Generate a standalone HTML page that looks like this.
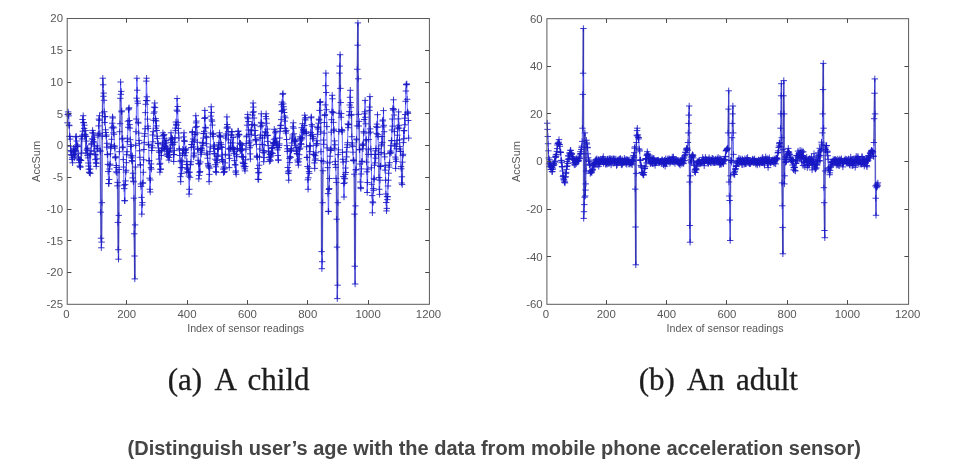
<!DOCTYPE html>
<html lang="en">
<head>
<meta charset="utf-8">
<title>Distinguish user’s age with acceleration sensor data</title>
<style>
html,body{margin:0;padding:0;background:#fff;}
body{width:959px;height:470px;overflow:hidden;}
svg{display:block;}
</style>
</head>
<body>
<svg width="959" height="470" viewBox="0 0 959 470">
<rect width="959" height="470" fill="#ffffff"/>
<defs><filter id="soft" x="-2%" y="-2%" width="104%" height="104%"><feGaussianBlur stdDeviation="0.4"/></filter><filter id="soft2" x="-2%" y="-20%" width="104%" height="140%"><feGaussianBlur stdDeviation="0.35"/></filter></defs>
<g id="left-data" filter="url(#soft)">
<path d="M67.5,122.8 67.8,114.5 68.1,111.9 68.4,113.9 68.7,115.9 69.0,125.1 69.3,125.7 69.6,136.4 69.9,136.4 70.2,139.1 70.5,146.3 70.8,150.5 71.1,154.6 71.4,151.7 71.7,155.3 72.0,159.5 72.3,157.8 72.6,162.8 72.9,155.2 73.2,152.1 73.5,148.2 73.8,154.5 74.1,151.3 74.4,157.8 74.7,149.3 75.0,155.9 75.3,150.6 75.7,136.9 76.0,151.0 76.3,136.4 76.6,141.0 76.9,146.3 77.2,144.9 77.5,146.6 77.8,146.1 78.1,153.8 78.4,157.0 78.7,158.8 79.0,162.6 79.3,160.2 79.6,166.0 79.9,159.5 80.2,167.1 80.5,166.8 80.8,160.4 81.1,160.4 81.4,136.5 81.7,153.0 82.0,138.9 82.3,135.2 82.6,119.5 82.9,131.2 83.2,115.7 83.5,122.4 83.8,122.8 84.1,128.4 84.4,125.2 84.7,136.6 85.0,134.4 85.3,135.1 85.6,130.6 85.9,153.2 86.2,136.5 86.5,141.1 86.8,150.3 87.1,149.0 87.4,155.4 87.7,148.1 88.0,157.9 88.3,163.0 88.6,166.1 88.9,169.2 89.2,172.2 89.5,172.8 89.8,154.4 90.1,169.1 90.4,173.4 90.7,153.6 91.0,150.8 91.3,144.7 91.6,143.4 92.0,138.8 92.3,132.8 92.6,130.4 92.9,139.7 93.2,141.8 93.5,133.1 93.8,142.0 94.1,151.2 94.4,137.1 94.7,146.1 95.0,154.6 95.3,159.6 95.6,154.9 95.9,162.8 96.2,166.4 96.5,163.3 96.8,158.8 97.1,145.9 97.4,148.4 97.7,148.9 98.0,135.4 98.3,134.2 98.6,125.9 98.9,119.1 99.2,120.3 99.5,115.7 99.8,133.3 100.1,150.3 100.4,151.3 100.7,212.2 101.0,238.2 101.3,247.8 101.6,242.1 101.9,202.7 102.2,136.2 102.5,112.9 102.8,78.2 103.1,84.8 103.4,96.3 103.7,93.1 104.0,100.3 104.3,111.7 104.6,122.5 104.9,116.8 105.2,116.5 105.5,129.8 105.8,132.5 106.1,136.4 106.4,135.0 106.7,147.2 107.0,143.3 107.3,154.7 107.6,154.4 107.9,164.4 108.2,171.5 108.6,183.5 108.9,183.6 109.2,179.5 109.5,169.0 109.8,165.2 110.1,164.1 110.4,153.8 110.7,146.6 111.0,148.2 111.3,144.8 111.6,139.3 111.9,127.9 112.2,123.2 112.5,116.9 112.8,118.0 113.1,126.9 113.4,132.8 113.7,127.9 114.0,134.3 114.3,146.0 114.6,146.2 114.9,148.1 115.2,157.2 115.5,157.9 115.8,156.8 116.1,171.9 116.4,165.5 116.7,167.5 117.0,172.8 117.3,185.9 117.6,182.4 117.9,222.4 118.2,249.7 118.5,259.2 118.8,215.4 119.1,169.5 119.4,151.7 119.7,131.7 120.0,123.7 120.3,98.3 120.6,82.0 120.9,94.3 121.2,91.4 121.5,111.8 121.8,110.9 122.1,139.1 122.4,147.7 122.7,138.3 123.0,147.0 123.3,159.6 123.6,167.0 123.9,185.1 124.2,188.6 124.5,200.6 124.9,200.8 125.2,184.6 125.5,180.9 125.8,172.1 126.1,170.3 126.4,162.7 126.7,154.7 127.0,151.7 127.3,138.2 127.6,141.6 127.9,121.2 128.2,127.3 128.5,109.8 128.8,108.7 129.1,107.8 129.4,120.5 129.7,124.6 130.0,128.1 130.3,139.7 130.6,146.5 130.9,155.8 131.2,144.7 131.5,157.8 131.8,160.5 132.1,161.3 132.4,155.8 132.7,177.9 133.0,173.2 133.3,181.2 133.6,181.8 133.9,198.1 134.2,233.8 134.5,256.0 134.8,278.9 135.1,224.9 135.4,167.0 135.7,145.4 136.0,131.7 136.3,119.0 136.6,98.2 136.9,78.2 137.2,90.2 137.5,101.1 137.8,103.3 138.1,122.3 138.4,123.1 138.7,133.1 139.0,140.4 139.3,143.7 139.6,150.8 139.9,157.3 140.2,164.9 140.5,164.9 140.8,184.0 141.1,186.4 141.5,197.4 141.8,214.1 142.1,205.0 142.4,202.6 142.7,183.1 143.0,182.9 143.3,172.3 143.6,159.8 143.9,149.5 144.2,142.4 144.5,136.2 144.8,133.7 145.1,128.8 145.4,112.6 145.7,104.3 146.0,100.5 146.3,81.1 146.6,78.2 146.9,96.8 147.2,100.7 147.5,119.1 147.8,126.2 148.1,128.4 148.4,144.3 148.7,144.9 149.0,160.7 149.3,160.7 149.6,178.2 149.9,189.3 150.2,192.0 150.5,180.0 150.8,167.6 151.1,163.9 151.4,169.1 151.7,150.5 152.0,145.8 152.3,147.8 152.6,135.0 152.9,141.8 153.2,131.7 153.5,120.2 153.8,113.2 154.1,107.1 154.4,111.9 154.7,103.0 155.0,107.6 155.3,120.6 155.6,118.6 155.9,128.2 156.2,120.9 156.5,125.9 156.8,130.5 157.1,136.2 157.4,138.6 157.8,143.3 158.1,143.6 158.4,147.9 158.7,150.8 159.0,159.1 159.3,152.3 159.6,164.3 159.9,172.2 160.2,163.3 160.5,169.4 160.8,169.0 161.1,151.1 161.4,155.5 161.7,150.5 162.0,148.6 162.3,142.8 162.6,144.8 162.9,132.8 163.2,136.0 163.5,135.5 163.8,148.1 164.1,134.5 164.4,138.3 164.7,149.5 165.0,146.2 165.3,143.8 165.6,142.1 165.9,146.2 166.2,140.5 166.5,148.1 166.8,154.2 167.1,154.0 167.4,148.6 167.7,156.5 168.0,151.0 168.3,151.7 168.6,155.3 168.9,160.1 169.2,157.5 169.5,152.3 169.8,151.1 170.1,148.1 170.4,148.9 170.7,139.7 171.0,132.8 171.3,142.7 171.6,137.8 171.9,138.9 172.2,144.9 172.5,138.7 172.8,142.5 173.1,144.3 173.4,154.6 173.7,161.5 174.0,154.5 174.4,150.6 174.7,142.2 175.0,137.7 175.3,128.1 175.6,130.6 175.9,122.0 176.2,124.3 176.5,125.2 176.8,110.1 177.1,98.5 177.4,111.2 177.7,106.5 178.0,122.4 178.3,128.4 178.6,133.0 178.9,138.0 179.2,148.7 179.5,149.9 179.8,155.5 180.1,161.2 180.4,176.7 180.7,181.7 181.0,167.6 181.3,160.3 181.6,173.4 181.9,161.9 182.2,167.7 182.5,153.9 182.8,149.2 183.1,153.0 183.4,150.4 183.7,136.9 184.0,132.8 184.3,140.4 184.6,141.5 184.9,155.7 185.2,150.5 185.5,149.6 185.8,152.7 186.1,148.8 186.4,164.5 186.7,172.0 187.0,161.4 187.3,169.1 187.6,167.9 187.9,168.9 188.2,172.8 188.5,172.2 188.8,176.1 189.1,194.1 189.4,189.3 189.7,172.2 190.0,177.3 190.3,164.8 190.6,164.3 191.0,161.8 191.3,147.5 191.6,144.5 191.9,144.6 192.2,132.6 192.5,131.5 192.8,141.8 193.1,139.0 193.4,146.9 193.7,156.9 194.0,155.2 194.3,153.1 194.6,140.2 194.9,134.6 195.2,134.3 195.5,127.4 195.8,115.7 196.1,122.9 196.4,121.1 196.7,126.4 197.0,132.9 197.3,142.3 197.6,149.3 197.9,148.8 198.2,160.3 198.5,163.6 198.8,178.9 199.1,175.4 199.4,164.0 199.7,172.4 200.0,171.5 200.3,162.0 200.6,150.3 200.9,148.4 201.2,154.3 201.5,152.2 201.8,148.2 202.1,150.2 202.4,143.3 202.7,142.4 203.0,145.3 203.3,138.1 203.6,133.6 203.9,133.4 204.2,131.4 204.5,118.5 204.8,110.4 205.1,117.6 205.4,127.4 205.7,128.0 206.0,136.4 206.3,143.7 206.6,137.6 206.9,153.1 207.3,154.7 207.6,158.2 207.9,163.6 208.2,165.1 208.5,166.1 208.8,167.1 209.1,181.7 209.4,174.4 209.7,168.2 210.0,151.4 210.3,147.0 210.6,133.0 210.9,116.1 211.2,106.8 211.5,112.4 211.8,119.9 212.1,121.2 212.4,125.1 212.7,134.4 213.0,136.4 213.3,133.4 213.6,148.4 213.9,146.2 214.2,153.6 214.5,145.0 214.8,154.0 215.1,159.2 215.4,164.7 215.7,171.6 216.0,166.8 216.3,172.4 216.6,160.5 216.9,155.9 217.2,162.7 217.5,149.5 217.8,148.3 218.1,156.3 218.4,148.6 218.7,144.9 219.0,142.8 219.3,135.2 219.6,132.8 219.9,136.0 220.2,136.7 220.5,137.0 220.8,142.8 221.1,146.7 221.4,144.6 221.7,159.5 222.0,147.5 222.3,155.0 222.6,161.6 222.9,160.0 223.2,169.1 223.5,172.6 223.9,167.1 224.2,172.0 224.5,171.6 224.8,168.8 225.1,162.9 225.4,154.3 225.7,135.9 226.0,138.1 226.3,134.0 226.6,128.0 226.9,116.9 227.2,124.5 227.5,126.8 227.8,128.0 228.1,131.7 228.4,139.8 228.7,149.0 229.0,155.2 229.3,167.6 229.6,158.4 229.9,148.2 230.2,148.8 230.5,142.9 230.8,148.8 231.1,135.2 231.4,134.8 231.7,131.5 232.0,131.9 232.3,147.8 232.6,142.9 232.9,147.6 233.2,137.5 233.5,149.7 233.8,153.4 234.1,149.0 234.4,160.6 234.7,151.7 235.0,164.8 235.3,164.8 235.6,172.2 235.9,170.9 236.2,174.3 236.5,154.7 236.8,156.7 237.1,148.4 237.4,148.8 237.7,136.2 238.0,131.5 238.3,131.0 238.6,134.2 238.9,134.7 239.2,134.8 239.5,143.2 239.8,148.7 240.2,150.9 240.5,143.2 240.8,149.8 241.1,144.4 241.4,150.5 241.7,156.6 242.0,148.8 242.3,145.3 242.6,157.0 242.9,162.3 243.2,163.5 243.5,157.0 243.8,165.9 244.1,166.9 244.4,163.6 244.7,168.8 245.0,170.9 245.3,166.5 245.6,159.8 245.9,149.3 246.2,143.6 246.5,136.8 246.8,136.0 247.1,125.2 247.4,117.3 247.7,114.4 248.0,118.7 248.3,121.5 248.6,130.0 248.9,134.4 249.2,142.8 249.5,140.9 249.8,147.7 250.1,153.9 250.4,159.1 250.7,145.7 251.0,129.9 251.3,134.2 251.6,130.8 251.9,124.9 252.2,124.4 252.5,115.1 252.8,112.3 253.1,103.0 253.4,107.1 253.7,111.8 254.0,118.0 254.3,125.7 254.6,124.9 254.9,135.5 255.2,130.5 255.5,139.4 255.8,140.8 256.1,139.8 256.4,144.4 256.8,156.9 257.1,156.0 257.4,157.2 257.7,168.5 258.0,179.3 258.3,172.9 258.6,179.5 258.9,172.4 259.2,165.2 259.5,156.8 259.8,149.0 260.1,137.9 260.4,135.0 260.7,126.7 261.0,122.4 261.3,113.8 261.6,123.3 261.9,125.3 262.2,144.7 262.5,138.0 262.8,144.7 263.1,152.3 263.4,150.5 263.7,161.7 264.0,157.6 264.3,152.9 264.6,135.5 264.9,135.8 265.2,131.7 265.5,132.7 265.8,116.5 266.1,113.8 266.4,118.8 266.7,123.2 267.0,135.4 267.3,129.1 267.6,141.4 267.9,135.4 268.2,145.6 268.5,151.1 268.8,151.3 269.1,157.3 269.4,161.4 269.7,159.4 270.0,154.5 270.3,157.0 270.6,160.7 270.9,153.9 271.2,155.9 271.5,152.7 271.8,148.5 272.1,147.8 272.4,147.7 272.7,153.4 273.1,142.6 273.4,143.9 273.7,143.4 274.0,139.3 274.3,129.3 274.6,143.0 274.9,142.9 275.2,132.8 275.5,138.3 275.8,131.3 276.1,145.0 276.4,145.3 276.7,141.4 277.0,142.9 277.3,147.4 277.6,149.9 277.9,155.5 278.2,160.0 278.5,160.1 278.8,147.6 279.1,145.4 279.4,143.9 279.7,138.0 280.0,131.3 280.3,125.6 280.6,128.4 280.9,125.2 281.2,119.6 281.5,104.7 281.8,111.5 282.1,102.1 282.4,110.6 282.7,94.3 283.0,93.4 283.3,103.9 283.6,106.7 283.9,109.3 284.2,112.5 284.5,116.1 284.8,121.1 285.1,128.4 285.4,117.8 285.7,131.4 286.0,133.1 286.3,130.4 286.6,139.5 286.9,145.6 287.2,151.4 287.5,148.8 287.8,167.5 288.1,171.9 288.4,173.5 288.7,180.2 289.0,170.8 289.3,158.4 289.7,162.6 290.0,156.6 290.3,151.2 290.6,157.4 290.9,148.5 291.2,150.4 291.5,149.8 291.8,143.0 292.1,138.8 292.4,137.1 292.7,135.0 293.0,126.8 293.3,122.8 293.6,128.2 293.9,133.8 294.2,140.7 294.5,141.8 294.8,145.3 295.1,141.1 295.4,139.3 295.7,141.0 296.0,147.4 296.3,151.3 296.6,150.9 296.9,153.6 297.2,153.9 297.5,160.1 297.8,162.1 298.1,147.1 298.4,165.1 298.7,161.8 299.0,158.8 299.3,154.7 299.6,149.3 299.9,136.8 300.2,148.3 300.5,138.3 300.8,143.7 301.1,140.0 301.4,144.3 301.7,127.7 302.0,137.4 302.3,138.8 302.6,123.7 302.9,132.1 303.2,129.4 303.5,130.5 303.8,132.0 304.1,133.1 304.4,125.5 304.7,115.2 305.0,119.0 305.3,120.0 305.6,117.6 306.0,133.5 306.3,131.8 306.6,146.8 306.9,157.5 307.2,157.3 307.5,166.5 307.8,179.8 308.1,189.3 308.4,177.8 308.7,168.2 309.0,171.6 309.3,173.4 309.6,145.5 309.9,151.6 310.2,146.3 310.5,135.6 310.8,132.4 311.1,117.8 311.4,116.9 311.7,124.6 312.0,134.6 312.3,126.2 312.6,138.9 312.9,136.4 313.2,138.2 313.5,154.4 313.8,154.3 314.1,154.7 314.4,162.9 314.7,168.4 315.0,160.2 315.3,155.7 315.6,158.9 315.9,152.8 316.2,145.4 316.5,143.9 316.8,140.8 317.1,143.7 317.4,127.3 317.7,134.3 318.0,129.0 318.3,127.2 318.6,123.2 318.9,119.2 319.2,120.0 319.5,110.4 319.8,102.4 320.1,102.1 320.4,101.7 320.7,131.9 321.0,151.7 321.3,160.5 321.6,251.6 321.9,268.7 322.2,261.7 322.6,202.7 322.9,170.7 323.2,161.4 323.5,140.0 323.8,144.3 324.1,133.2 324.4,122.5 324.7,115.5 325.0,114.6 325.3,104.9 325.6,85.7 325.9,73.1 326.2,92.5 326.5,109.7 326.8,126.6 327.1,147.9 327.4,163.0 327.7,167.6 328.0,193.6 328.3,211.6 328.6,211.3 328.9,189.5 329.2,188.5 329.5,178.5 329.8,162.2 330.1,156.2 330.4,149.0 330.7,150.5 331.0,149.9 331.3,132.2 331.6,119.7 331.9,111.7 332.2,95.3 332.5,98.8 332.8,112.8 333.1,112.2 333.4,122.4 333.7,130.6 334.0,129.2 334.3,148.3 334.6,140.9 334.9,144.8 335.2,164.6 335.5,161.4 335.8,167.4 336.1,178.4 336.4,182.4 336.7,219.2 337.0,247.1 337.3,298.6 337.6,285.2 337.9,202.7 338.2,154.6 338.5,149.9 338.8,131.5 339.2,113.2 339.5,73.1 339.8,66.1 340.1,54.7 340.4,88.4 340.7,102.5 341.0,117.2 341.3,113.6 341.6,129.5 341.9,131.9 342.2,130.5 342.5,152.4 342.8,159.3 343.1,162.1 343.4,176.5 343.7,183.5 344.0,197.0 344.3,178.2 344.6,182.9 344.9,178.8 345.2,174.4 345.5,168.0 345.8,172.5 346.1,161.3 346.4,151.9 346.7,156.9 347.0,147.4 347.3,144.8 347.6,142.7 347.9,123.9 348.2,127.7 348.5,124.5 348.8,124.7 349.1,115.2 349.4,111.6 349.7,105.0 350.0,97.3 350.3,90.3 350.6,102.6 350.9,107.3 351.2,115.2 351.5,114.4 351.8,136.7 352.1,145.1 352.4,142.9 352.7,146.6 353.0,152.2 353.3,160.5 353.6,159.9 353.9,160.9 354.2,174.2 354.5,214.1 354.8,266.2 355.1,284.0 355.5,205.9 355.8,169.8 356.1,169.8 356.4,139.0 356.7,139.8 357.0,125.9 357.3,69.3 357.6,45.2 357.9,22.9 358.2,78.8 358.5,114.4 358.8,126.0 359.1,121.4 359.4,149.8 359.7,149.6 360.0,164.0 360.3,182.0 360.6,187.4 360.9,188.6 361.2,174.0 361.5,168.9 361.8,161.6 362.1,161.2 362.4,144.9 362.7,145.4 363.0,148.8 363.3,144.0 363.6,131.7 363.9,133.0 364.2,119.5 364.5,113.8 364.8,111.8 365.1,100.4 365.4,117.3 365.7,123.8 366.0,140.8 366.3,139.5 366.6,162.1 366.9,171.8 367.2,192.5 367.5,182.5 367.8,169.1 368.1,154.4 368.4,149.8 368.7,139.5 369.0,133.0 369.3,110.4 369.6,107.0 369.9,96.6 370.2,128.9 370.5,132.1 370.8,148.8 371.1,154.4 371.4,167.8 371.7,184.3 372.1,195.6 372.4,212.8 372.7,201.9 373.0,202.8 373.3,188.6 373.6,190.3 373.9,178.3 374.2,179.6 374.5,165.2 374.8,154.4 375.1,162.9 375.4,150.8 375.7,158.2 376.0,148.5 376.3,126.7 376.6,133.4 376.9,124.1 377.2,127.4 377.5,114.7 377.8,134.7 378.1,136.7 378.4,154.3 378.7,148.7 379.0,177.5 379.3,189.3 379.6,194.4 379.9,180.2 380.2,166.1 380.5,166.4 380.8,166.3 381.1,152.5 381.4,145.9 381.7,144.2 382.0,136.5 382.3,142.4 382.6,121.0 382.9,120.0 383.2,126.9 383.5,110.6 383.8,125.3 384.1,131.7 384.4,153.9 384.7,156.9 385.0,170.1 385.3,165.4 385.6,180.2 385.9,194.0 386.2,202.5 386.5,210.9 386.8,208.4 387.1,196.6 387.4,199.6 387.7,196.7 388.0,186.0 388.4,180.2 388.7,173.2 389.0,165.0 389.3,167.1 389.6,162.7 389.9,153.6 390.2,152.2 390.5,151.0 390.8,145.6 391.1,152.9 391.4,140.5 391.7,140.8 392.0,130.0 392.3,119.0 392.6,126.1 392.9,108.5 393.2,110.1 393.5,99.8 393.8,109.3 394.1,115.0 394.4,131.6 394.7,146.1 395.0,144.0 395.3,157.1 395.6,168.4 395.9,159.1 396.2,161.4 396.5,148.8 396.8,143.9 397.1,140.4 397.4,135.2 397.7,128.8 398.0,127.1 398.3,118.9 398.6,111.9 398.9,125.3 399.2,128.2 399.5,139.8 399.8,146.6 400.1,149.0 400.4,151.3 400.7,151.4 401.0,166.6 401.3,168.8 401.6,183.0 401.9,176.8 402.2,184.6 402.5,162.1 402.8,155.6 403.1,154.3 403.4,142.6 403.7,130.6 404.0,138.7 404.3,130.7 404.6,118.2 405.0,124.8 405.3,114.5 405.6,101.3 405.9,91.0 406.2,84.6 406.5,84.7 406.8,83.9 407.1,99.3 407.4,112.8 407.7,111.9 408.0,113.3 408.3,120.5 408.6,138.1" fill="none" stroke="#4040ff" stroke-width="0.8" stroke-linejoin="round"/>
<path d="M81.1,160.4L81.4,136.5" fill="none" stroke="#20208a" stroke-width="1.6" stroke-opacity="0.4"/>
<path d="M85.6,130.6L85.9,153.2" fill="none" stroke="#20208a" stroke-width="1.6" stroke-opacity="0.4"/>
<path d="M100.4,151.3L100.7,212.2" fill="none" stroke="#20208a" stroke-width="1.6" stroke-opacity="0.4"/>
<path d="M100.7,212.2L101.0,238.2" fill="none" stroke="#20208a" stroke-width="1.6" stroke-opacity="0.4"/>
<path d="M101.6,242.1L101.9,202.7" fill="none" stroke="#20208a" stroke-width="1.6" stroke-opacity="0.4"/>
<path d="M101.9,202.7L102.2,136.2" fill="none" stroke="#20208a" stroke-width="1.6" stroke-opacity="0.4"/>
<path d="M102.2,136.2L102.5,112.9" fill="none" stroke="#20208a" stroke-width="1.6" stroke-opacity="0.4"/>
<path d="M102.5,112.9L102.8,78.2" fill="none" stroke="#20208a" stroke-width="1.6" stroke-opacity="0.4"/>
<path d="M117.6,182.4L117.9,222.4" fill="none" stroke="#20208a" stroke-width="1.6" stroke-opacity="0.4"/>
<path d="M117.9,222.4L118.2,249.7" fill="none" stroke="#20208a" stroke-width="1.6" stroke-opacity="0.4"/>
<path d="M118.5,259.2L118.8,215.4" fill="none" stroke="#20208a" stroke-width="1.6" stroke-opacity="0.4"/>
<path d="M118.8,215.4L119.1,169.5" fill="none" stroke="#20208a" stroke-width="1.6" stroke-opacity="0.4"/>
<path d="M120.0,123.7L120.3,98.3" fill="none" stroke="#20208a" stroke-width="1.6" stroke-opacity="0.4"/>
<path d="M121.8,110.9L122.1,139.1" fill="none" stroke="#20208a" stroke-width="1.6" stroke-opacity="0.4"/>
<path d="M132.4,155.8L132.7,177.9" fill="none" stroke="#20208a" stroke-width="1.6" stroke-opacity="0.4"/>
<path d="M133.9,198.1L134.2,233.8" fill="none" stroke="#20208a" stroke-width="1.6" stroke-opacity="0.4"/>
<path d="M134.2,233.8L134.5,256.0" fill="none" stroke="#20208a" stroke-width="1.6" stroke-opacity="0.4"/>
<path d="M134.5,256.0L134.8,278.9" fill="none" stroke="#20208a" stroke-width="1.6" stroke-opacity="0.4"/>
<path d="M134.8,278.9L135.1,224.9" fill="none" stroke="#20208a" stroke-width="1.6" stroke-opacity="0.4"/>
<path d="M135.1,224.9L135.4,167.0" fill="none" stroke="#20208a" stroke-width="1.6" stroke-opacity="0.4"/>
<path d="M309.3,173.4L309.6,145.5" fill="none" stroke="#20208a" stroke-width="1.6" stroke-opacity="0.4"/>
<path d="M320.4,101.7L320.7,131.9" fill="none" stroke="#20208a" stroke-width="1.6" stroke-opacity="0.4"/>
<path d="M321.3,160.5L321.6,251.6" fill="none" stroke="#20208a" stroke-width="1.6" stroke-opacity="0.4"/>
<path d="M322.2,261.7L322.6,202.7" fill="none" stroke="#20208a" stroke-width="1.6" stroke-opacity="0.4"/>
<path d="M322.6,202.7L322.9,170.7" fill="none" stroke="#20208a" stroke-width="1.6" stroke-opacity="0.4"/>
<path d="M327.7,167.6L328.0,193.6" fill="none" stroke="#20208a" stroke-width="1.6" stroke-opacity="0.4"/>
<path d="M336.4,182.4L336.7,219.2" fill="none" stroke="#20208a" stroke-width="1.6" stroke-opacity="0.4"/>
<path d="M336.7,219.2L337.0,247.1" fill="none" stroke="#20208a" stroke-width="1.6" stroke-opacity="0.4"/>
<path d="M337.0,247.1L337.3,298.6" fill="none" stroke="#20208a" stroke-width="1.6" stroke-opacity="0.4"/>
<path d="M337.6,285.2L337.9,202.7" fill="none" stroke="#20208a" stroke-width="1.6" stroke-opacity="0.4"/>
<path d="M337.9,202.7L338.2,154.6" fill="none" stroke="#20208a" stroke-width="1.6" stroke-opacity="0.4"/>
<path d="M339.2,113.2L339.5,73.1" fill="none" stroke="#20208a" stroke-width="1.6" stroke-opacity="0.4"/>
<path d="M340.1,54.7L340.4,88.4" fill="none" stroke="#20208a" stroke-width="1.6" stroke-opacity="0.4"/>
<path d="M351.5,114.4L351.8,136.7" fill="none" stroke="#20208a" stroke-width="1.6" stroke-opacity="0.4"/>
<path d="M354.2,174.2L354.5,214.1" fill="none" stroke="#20208a" stroke-width="1.6" stroke-opacity="0.4"/>
<path d="M354.5,214.1L354.8,266.2" fill="none" stroke="#20208a" stroke-width="1.6" stroke-opacity="0.4"/>
<path d="M355.1,284.0L355.5,205.9" fill="none" stroke="#20208a" stroke-width="1.6" stroke-opacity="0.4"/>
<path d="M355.5,205.9L355.8,169.8" fill="none" stroke="#20208a" stroke-width="1.6" stroke-opacity="0.4"/>
<path d="M356.1,169.8L356.4,139.0" fill="none" stroke="#20208a" stroke-width="1.6" stroke-opacity="0.4"/>
<path d="M357.0,125.9L357.3,69.3" fill="none" stroke="#20208a" stroke-width="1.6" stroke-opacity="0.4"/>
<path d="M357.3,69.3L357.6,45.2" fill="none" stroke="#20208a" stroke-width="1.6" stroke-opacity="0.4"/>
<path d="M357.6,45.2L357.9,22.9" fill="none" stroke="#20208a" stroke-width="1.6" stroke-opacity="0.4"/>
<path d="M357.9,22.9L358.2,78.8" fill="none" stroke="#20208a" stroke-width="1.6" stroke-opacity="0.4"/>
<path d="M358.2,78.8L358.5,114.4" fill="none" stroke="#20208a" stroke-width="1.6" stroke-opacity="0.4"/>
<path d="M359.1,121.4L359.4,149.8" fill="none" stroke="#20208a" stroke-width="1.6" stroke-opacity="0.4"/>
<path d="M366.3,139.5L366.6,162.1" fill="none" stroke="#20208a" stroke-width="1.6" stroke-opacity="0.4"/>
<path d="M369.0,133.0L369.3,110.4" fill="none" stroke="#20208a" stroke-width="1.6" stroke-opacity="0.4"/>
<path d="M369.9,96.6L370.2,128.9" fill="none" stroke="#20208a" stroke-width="1.6" stroke-opacity="0.4"/>
<path d="M378.7,148.7L379.0,177.5" fill="none" stroke="#20208a" stroke-width="1.6" stroke-opacity="0.4"/>
<path d="M384.1,131.7L384.4,153.9" fill="none" stroke="#20208a" stroke-width="1.6" stroke-opacity="0.4"/>
<path d="M402.2,184.6L402.5,162.1" fill="none" stroke="#20208a" stroke-width="1.6" stroke-opacity="0.4"/>
<path d="M64.3 122.8h6.4m-3.2 -3.2v6.4M64.6 114.5h6.4m-3.2 -3.2v6.4M64.9 111.9h6.4m-3.2 -3.2v6.4M65.2 113.9h6.4m-3.2 -3.2v6.4M65.5 115.9h6.4m-3.2 -3.2v6.4M65.8 125.1h6.4m-3.2 -3.2v6.4M66.1 125.7h6.4m-3.2 -3.2v6.4M66.4 136.4h6.4m-3.2 -3.2v6.4M66.7 136.4h6.4m-3.2 -3.2v6.4M67.0 139.1h6.4m-3.2 -3.2v6.4M67.3 146.3h6.4m-3.2 -3.2v6.4M67.6 150.5h6.4m-3.2 -3.2v6.4M67.9 154.6h6.4m-3.2 -3.2v6.4M68.2 151.7h6.4m-3.2 -3.2v6.4M68.5 155.3h6.4m-3.2 -3.2v6.4M68.8 159.5h6.4m-3.2 -3.2v6.4M69.1 157.8h6.4m-3.2 -3.2v6.4M69.4 162.8h6.4m-3.2 -3.2v6.4M69.7 155.2h6.4m-3.2 -3.2v6.4M70.0 152.1h6.4m-3.2 -3.2v6.4M70.3 148.2h6.4m-3.2 -3.2v6.4M70.6 154.5h6.4m-3.2 -3.2v6.4M70.9 151.3h6.4m-3.2 -3.2v6.4M71.2 157.8h6.4m-3.2 -3.2v6.4M71.5 149.3h6.4m-3.2 -3.2v6.4M71.8 155.9h6.4m-3.2 -3.2v6.4M72.1 150.6h6.4m-3.2 -3.2v6.4M72.5 136.9h6.4m-3.2 -3.2v6.4M72.8 151.0h6.4m-3.2 -3.2v6.4M73.1 136.4h6.4m-3.2 -3.2v6.4M73.4 141.0h6.4m-3.2 -3.2v6.4M73.7 146.3h6.4m-3.2 -3.2v6.4M74.0 144.9h6.4m-3.2 -3.2v6.4M74.3 146.6h6.4m-3.2 -3.2v6.4M74.6 146.1h6.4m-3.2 -3.2v6.4M74.9 153.8h6.4m-3.2 -3.2v6.4M75.2 157.0h6.4m-3.2 -3.2v6.4M75.5 158.8h6.4m-3.2 -3.2v6.4M75.8 162.6h6.4m-3.2 -3.2v6.4M76.1 160.2h6.4m-3.2 -3.2v6.4M76.4 166.0h6.4m-3.2 -3.2v6.4M76.7 159.5h6.4m-3.2 -3.2v6.4M77.0 167.1h6.4m-3.2 -3.2v6.4M77.3 166.8h6.4m-3.2 -3.2v6.4M77.6 160.4h6.4m-3.2 -3.2v6.4M77.9 160.4h6.4m-3.2 -3.2v6.4M78.2 136.5h6.4m-3.2 -3.2v6.4M78.5 153.0h6.4m-3.2 -3.2v6.4M78.8 138.9h6.4m-3.2 -3.2v6.4M79.1 135.2h6.4m-3.2 -3.2v6.4M79.4 119.5h6.4m-3.2 -3.2v6.4M79.7 131.2h6.4m-3.2 -3.2v6.4M80.0 115.7h6.4m-3.2 -3.2v6.4M80.3 122.4h6.4m-3.2 -3.2v6.4M80.6 122.8h6.4m-3.2 -3.2v6.4M80.9 128.4h6.4m-3.2 -3.2v6.4M81.2 125.2h6.4m-3.2 -3.2v6.4M81.5 136.6h6.4m-3.2 -3.2v6.4M81.8 134.4h6.4m-3.2 -3.2v6.4M82.1 135.1h6.4m-3.2 -3.2v6.4M82.4 130.6h6.4m-3.2 -3.2v6.4M82.7 153.2h6.4m-3.2 -3.2v6.4M83.0 136.5h6.4m-3.2 -3.2v6.4M83.3 141.1h6.4m-3.2 -3.2v6.4M83.6 150.3h6.4m-3.2 -3.2v6.4M83.9 149.0h6.4m-3.2 -3.2v6.4M84.2 155.4h6.4m-3.2 -3.2v6.4M84.5 148.1h6.4m-3.2 -3.2v6.4M84.8 157.9h6.4m-3.2 -3.2v6.4M85.1 163.0h6.4m-3.2 -3.2v6.4M85.4 166.1h6.4m-3.2 -3.2v6.4M85.7 169.2h6.4m-3.2 -3.2v6.4M86.0 172.2h6.4m-3.2 -3.2v6.4M86.3 172.8h6.4m-3.2 -3.2v6.4M86.6 154.4h6.4m-3.2 -3.2v6.4M86.9 169.1h6.4m-3.2 -3.2v6.4M87.2 173.4h6.4m-3.2 -3.2v6.4M87.5 153.6h6.4m-3.2 -3.2v6.4M87.8 150.8h6.4m-3.2 -3.2v6.4M88.1 144.7h6.4m-3.2 -3.2v6.4M88.4 143.4h6.4m-3.2 -3.2v6.4M88.8 138.8h6.4m-3.2 -3.2v6.4M89.1 132.8h6.4m-3.2 -3.2v6.4M89.4 130.4h6.4m-3.2 -3.2v6.4M89.7 139.7h6.4m-3.2 -3.2v6.4M90.0 141.8h6.4m-3.2 -3.2v6.4M90.3 133.1h6.4m-3.2 -3.2v6.4M90.6 142.0h6.4m-3.2 -3.2v6.4M90.9 151.2h6.4m-3.2 -3.2v6.4M91.2 137.1h6.4m-3.2 -3.2v6.4M91.5 146.1h6.4m-3.2 -3.2v6.4M91.8 154.6h6.4m-3.2 -3.2v6.4M92.1 159.6h6.4m-3.2 -3.2v6.4M92.4 154.9h6.4m-3.2 -3.2v6.4M92.7 162.8h6.4m-3.2 -3.2v6.4M93.0 166.4h6.4m-3.2 -3.2v6.4M93.3 163.3h6.4m-3.2 -3.2v6.4M93.6 158.8h6.4m-3.2 -3.2v6.4M93.9 145.9h6.4m-3.2 -3.2v6.4M94.2 148.4h6.4m-3.2 -3.2v6.4M94.5 148.9h6.4m-3.2 -3.2v6.4M94.8 135.4h6.4m-3.2 -3.2v6.4M95.1 134.2h6.4m-3.2 -3.2v6.4M95.4 125.9h6.4m-3.2 -3.2v6.4M95.7 119.1h6.4m-3.2 -3.2v6.4M96.0 120.3h6.4m-3.2 -3.2v6.4M96.3 115.7h6.4m-3.2 -3.2v6.4M96.6 133.3h6.4m-3.2 -3.2v6.4M96.9 150.3h6.4m-3.2 -3.2v6.4M97.2 151.3h6.4m-3.2 -3.2v6.4M97.5 212.2h6.4m-3.2 -3.2v6.4M97.8 238.2h6.4m-3.2 -3.2v6.4M98.1 247.8h6.4m-3.2 -3.2v6.4M98.4 242.1h6.4m-3.2 -3.2v6.4M98.7 202.7h6.4m-3.2 -3.2v6.4M99.0 136.2h6.4m-3.2 -3.2v6.4M99.3 112.9h6.4m-3.2 -3.2v6.4M99.6 78.2h6.4m-3.2 -3.2v6.4M99.9 84.8h6.4m-3.2 -3.2v6.4M100.2 96.3h6.4m-3.2 -3.2v6.4M100.5 93.1h6.4m-3.2 -3.2v6.4M100.8 100.3h6.4m-3.2 -3.2v6.4M101.1 111.7h6.4m-3.2 -3.2v6.4M101.4 122.5h6.4m-3.2 -3.2v6.4M101.7 116.8h6.4m-3.2 -3.2v6.4M102.0 116.5h6.4m-3.2 -3.2v6.4M102.3 129.8h6.4m-3.2 -3.2v6.4M102.6 132.5h6.4m-3.2 -3.2v6.4M102.9 136.4h6.4m-3.2 -3.2v6.4M103.2 135.0h6.4m-3.2 -3.2v6.4M103.5 147.2h6.4m-3.2 -3.2v6.4M103.8 143.3h6.4m-3.2 -3.2v6.4M104.1 154.7h6.4m-3.2 -3.2v6.4M104.4 154.4h6.4m-3.2 -3.2v6.4M104.7 164.4h6.4m-3.2 -3.2v6.4M105.0 171.5h6.4m-3.2 -3.2v6.4M105.4 183.5h6.4m-3.2 -3.2v6.4M105.7 183.6h6.4m-3.2 -3.2v6.4M106.0 179.5h6.4m-3.2 -3.2v6.4M106.3 169.0h6.4m-3.2 -3.2v6.4M106.6 165.2h6.4m-3.2 -3.2v6.4M106.9 164.1h6.4m-3.2 -3.2v6.4M107.2 153.8h6.4m-3.2 -3.2v6.4M107.5 146.6h6.4m-3.2 -3.2v6.4M107.8 148.2h6.4m-3.2 -3.2v6.4M108.1 144.8h6.4m-3.2 -3.2v6.4M108.4 139.3h6.4m-3.2 -3.2v6.4M108.7 127.9h6.4m-3.2 -3.2v6.4M109.0 123.2h6.4m-3.2 -3.2v6.4M109.3 116.9h6.4m-3.2 -3.2v6.4M109.6 118.0h6.4m-3.2 -3.2v6.4M109.9 126.9h6.4m-3.2 -3.2v6.4M110.2 132.8h6.4m-3.2 -3.2v6.4M110.5 127.9h6.4m-3.2 -3.2v6.4M110.8 134.3h6.4m-3.2 -3.2v6.4M111.1 146.0h6.4m-3.2 -3.2v6.4M111.4 146.2h6.4m-3.2 -3.2v6.4M111.7 148.1h6.4m-3.2 -3.2v6.4M112.0 157.2h6.4m-3.2 -3.2v6.4M112.3 157.9h6.4m-3.2 -3.2v6.4M112.6 156.8h6.4m-3.2 -3.2v6.4M112.9 171.9h6.4m-3.2 -3.2v6.4M113.2 165.5h6.4m-3.2 -3.2v6.4M113.5 167.5h6.4m-3.2 -3.2v6.4M113.8 172.8h6.4m-3.2 -3.2v6.4M114.1 185.9h6.4m-3.2 -3.2v6.4M114.4 182.4h6.4m-3.2 -3.2v6.4M114.7 222.4h6.4m-3.2 -3.2v6.4M115.0 249.7h6.4m-3.2 -3.2v6.4M115.3 259.2h6.4m-3.2 -3.2v6.4M115.6 215.4h6.4m-3.2 -3.2v6.4M115.9 169.5h6.4m-3.2 -3.2v6.4M116.2 151.7h6.4m-3.2 -3.2v6.4M116.5 131.7h6.4m-3.2 -3.2v6.4M116.8 123.7h6.4m-3.2 -3.2v6.4M117.1 98.3h6.4m-3.2 -3.2v6.4M117.4 82.0h6.4m-3.2 -3.2v6.4M117.7 94.3h6.4m-3.2 -3.2v6.4M118.0 91.4h6.4m-3.2 -3.2v6.4M118.3 111.8h6.4m-3.2 -3.2v6.4M118.6 110.9h6.4m-3.2 -3.2v6.4M118.9 139.1h6.4m-3.2 -3.2v6.4M119.2 147.7h6.4m-3.2 -3.2v6.4M119.5 138.3h6.4m-3.2 -3.2v6.4M119.8 147.0h6.4m-3.2 -3.2v6.4M120.1 159.6h6.4m-3.2 -3.2v6.4M120.4 167.0h6.4m-3.2 -3.2v6.4M120.7 185.1h6.4m-3.2 -3.2v6.4M121.0 188.6h6.4m-3.2 -3.2v6.4M121.3 200.6h6.4m-3.2 -3.2v6.4M121.7 200.8h6.4m-3.2 -3.2v6.4M122.0 184.6h6.4m-3.2 -3.2v6.4M122.3 180.9h6.4m-3.2 -3.2v6.4M122.6 172.1h6.4m-3.2 -3.2v6.4M122.9 170.3h6.4m-3.2 -3.2v6.4M123.2 162.7h6.4m-3.2 -3.2v6.4M123.5 154.7h6.4m-3.2 -3.2v6.4M123.8 151.7h6.4m-3.2 -3.2v6.4M124.1 138.2h6.4m-3.2 -3.2v6.4M124.4 141.6h6.4m-3.2 -3.2v6.4M124.7 121.2h6.4m-3.2 -3.2v6.4M125.0 127.3h6.4m-3.2 -3.2v6.4M125.3 109.8h6.4m-3.2 -3.2v6.4M125.6 108.7h6.4m-3.2 -3.2v6.4M125.9 107.8h6.4m-3.2 -3.2v6.4M126.2 120.5h6.4m-3.2 -3.2v6.4M126.5 124.6h6.4m-3.2 -3.2v6.4M126.8 128.1h6.4m-3.2 -3.2v6.4M127.1 139.7h6.4m-3.2 -3.2v6.4M127.4 146.5h6.4m-3.2 -3.2v6.4M127.7 155.8h6.4m-3.2 -3.2v6.4M128.0 144.7h6.4m-3.2 -3.2v6.4M128.3 157.8h6.4m-3.2 -3.2v6.4M128.6 160.5h6.4m-3.2 -3.2v6.4M128.9 161.3h6.4m-3.2 -3.2v6.4M129.2 155.8h6.4m-3.2 -3.2v6.4M129.5 177.9h6.4m-3.2 -3.2v6.4M129.8 173.2h6.4m-3.2 -3.2v6.4M130.1 181.2h6.4m-3.2 -3.2v6.4M130.4 181.8h6.4m-3.2 -3.2v6.4M130.7 198.1h6.4m-3.2 -3.2v6.4M131.0 233.8h6.4m-3.2 -3.2v6.4M131.3 256.0h6.4m-3.2 -3.2v6.4M131.6 278.9h6.4m-3.2 -3.2v6.4M131.9 224.9h6.4m-3.2 -3.2v6.4M132.2 167.0h6.4m-3.2 -3.2v6.4M132.5 145.4h6.4m-3.2 -3.2v6.4M132.8 131.7h6.4m-3.2 -3.2v6.4M133.1 119.0h6.4m-3.2 -3.2v6.4M133.4 98.2h6.4m-3.2 -3.2v6.4M133.7 78.2h6.4m-3.2 -3.2v6.4M134.0 90.2h6.4m-3.2 -3.2v6.4M134.3 101.1h6.4m-3.2 -3.2v6.4M134.6 103.3h6.4m-3.2 -3.2v6.4M134.9 122.3h6.4m-3.2 -3.2v6.4M135.2 123.1h6.4m-3.2 -3.2v6.4M135.5 133.1h6.4m-3.2 -3.2v6.4M135.8 140.4h6.4m-3.2 -3.2v6.4M136.1 143.7h6.4m-3.2 -3.2v6.4M136.4 150.8h6.4m-3.2 -3.2v6.4M136.7 157.3h6.4m-3.2 -3.2v6.4M137.0 164.9h6.4m-3.2 -3.2v6.4M137.3 164.9h6.4m-3.2 -3.2v6.4M137.6 184.0h6.4m-3.2 -3.2v6.4M137.9 186.4h6.4m-3.2 -3.2v6.4M138.3 197.4h6.4m-3.2 -3.2v6.4M138.6 214.1h6.4m-3.2 -3.2v6.4M138.9 205.0h6.4m-3.2 -3.2v6.4M139.2 202.6h6.4m-3.2 -3.2v6.4M139.5 183.1h6.4m-3.2 -3.2v6.4M139.8 182.9h6.4m-3.2 -3.2v6.4M140.1 172.3h6.4m-3.2 -3.2v6.4M140.4 159.8h6.4m-3.2 -3.2v6.4M140.7 149.5h6.4m-3.2 -3.2v6.4M141.0 142.4h6.4m-3.2 -3.2v6.4M141.3 136.2h6.4m-3.2 -3.2v6.4M141.6 133.7h6.4m-3.2 -3.2v6.4M141.9 128.8h6.4m-3.2 -3.2v6.4M142.2 112.6h6.4m-3.2 -3.2v6.4M142.5 104.3h6.4m-3.2 -3.2v6.4M142.8 100.5h6.4m-3.2 -3.2v6.4M143.1 81.1h6.4m-3.2 -3.2v6.4M143.4 78.2h6.4m-3.2 -3.2v6.4M143.7 96.8h6.4m-3.2 -3.2v6.4M144.0 100.7h6.4m-3.2 -3.2v6.4M144.3 119.1h6.4m-3.2 -3.2v6.4M144.6 126.2h6.4m-3.2 -3.2v6.4M144.9 128.4h6.4m-3.2 -3.2v6.4M145.2 144.3h6.4m-3.2 -3.2v6.4M145.5 144.9h6.4m-3.2 -3.2v6.4M145.8 160.7h6.4m-3.2 -3.2v6.4M146.1 160.7h6.4m-3.2 -3.2v6.4M146.4 178.2h6.4m-3.2 -3.2v6.4M146.7 189.3h6.4m-3.2 -3.2v6.4M147.0 192.0h6.4m-3.2 -3.2v6.4M147.3 180.0h6.4m-3.2 -3.2v6.4M147.6 167.6h6.4m-3.2 -3.2v6.4M147.9 163.9h6.4m-3.2 -3.2v6.4M148.2 169.1h6.4m-3.2 -3.2v6.4M148.5 150.5h6.4m-3.2 -3.2v6.4M148.8 145.8h6.4m-3.2 -3.2v6.4M149.1 147.8h6.4m-3.2 -3.2v6.4M149.4 135.0h6.4m-3.2 -3.2v6.4M149.7 141.8h6.4m-3.2 -3.2v6.4M150.0 131.7h6.4m-3.2 -3.2v6.4M150.3 120.2h6.4m-3.2 -3.2v6.4M150.6 113.2h6.4m-3.2 -3.2v6.4M150.9 107.1h6.4m-3.2 -3.2v6.4M151.2 111.9h6.4m-3.2 -3.2v6.4M151.5 103.0h6.4m-3.2 -3.2v6.4M151.8 107.6h6.4m-3.2 -3.2v6.4M152.1 120.6h6.4m-3.2 -3.2v6.4M152.4 118.6h6.4m-3.2 -3.2v6.4M152.7 128.2h6.4m-3.2 -3.2v6.4M153.0 120.9h6.4m-3.2 -3.2v6.4M153.3 125.9h6.4m-3.2 -3.2v6.4M153.6 130.5h6.4m-3.2 -3.2v6.4M153.9 136.2h6.4m-3.2 -3.2v6.4M154.2 138.6h6.4m-3.2 -3.2v6.4M154.6 143.3h6.4m-3.2 -3.2v6.4M154.9 143.6h6.4m-3.2 -3.2v6.4M155.2 147.9h6.4m-3.2 -3.2v6.4M155.5 150.8h6.4m-3.2 -3.2v6.4M155.8 159.1h6.4m-3.2 -3.2v6.4M156.1 152.3h6.4m-3.2 -3.2v6.4M156.4 164.3h6.4m-3.2 -3.2v6.4M156.7 172.2h6.4m-3.2 -3.2v6.4M157.0 163.3h6.4m-3.2 -3.2v6.4M157.3 169.4h6.4m-3.2 -3.2v6.4M157.6 169.0h6.4m-3.2 -3.2v6.4M157.9 151.1h6.4m-3.2 -3.2v6.4M158.2 155.5h6.4m-3.2 -3.2v6.4M158.5 150.5h6.4m-3.2 -3.2v6.4M158.8 148.6h6.4m-3.2 -3.2v6.4M159.1 142.8h6.4m-3.2 -3.2v6.4M159.4 144.8h6.4m-3.2 -3.2v6.4M159.7 132.8h6.4m-3.2 -3.2v6.4M160.0 136.0h6.4m-3.2 -3.2v6.4M160.3 135.5h6.4m-3.2 -3.2v6.4M160.6 148.1h6.4m-3.2 -3.2v6.4M160.9 134.5h6.4m-3.2 -3.2v6.4M161.2 138.3h6.4m-3.2 -3.2v6.4M161.5 149.5h6.4m-3.2 -3.2v6.4M161.8 146.2h6.4m-3.2 -3.2v6.4M162.1 143.8h6.4m-3.2 -3.2v6.4M162.4 142.1h6.4m-3.2 -3.2v6.4M162.7 146.2h6.4m-3.2 -3.2v6.4M163.0 140.5h6.4m-3.2 -3.2v6.4M163.3 148.1h6.4m-3.2 -3.2v6.4M163.6 154.2h6.4m-3.2 -3.2v6.4M163.9 154.0h6.4m-3.2 -3.2v6.4M164.2 148.6h6.4m-3.2 -3.2v6.4M164.5 156.5h6.4m-3.2 -3.2v6.4M164.8 151.0h6.4m-3.2 -3.2v6.4M165.1 151.7h6.4m-3.2 -3.2v6.4M165.4 155.3h6.4m-3.2 -3.2v6.4M165.7 160.1h6.4m-3.2 -3.2v6.4M166.0 157.5h6.4m-3.2 -3.2v6.4M166.3 152.3h6.4m-3.2 -3.2v6.4M166.6 151.1h6.4m-3.2 -3.2v6.4M166.9 148.1h6.4m-3.2 -3.2v6.4M167.2 148.9h6.4m-3.2 -3.2v6.4M167.5 139.7h6.4m-3.2 -3.2v6.4M167.8 132.8h6.4m-3.2 -3.2v6.4M168.1 142.7h6.4m-3.2 -3.2v6.4M168.4 137.8h6.4m-3.2 -3.2v6.4M168.7 138.9h6.4m-3.2 -3.2v6.4M169.0 144.9h6.4m-3.2 -3.2v6.4M169.3 138.7h6.4m-3.2 -3.2v6.4M169.6 142.5h6.4m-3.2 -3.2v6.4M169.9 144.3h6.4m-3.2 -3.2v6.4M170.2 154.6h6.4m-3.2 -3.2v6.4M170.5 161.5h6.4m-3.2 -3.2v6.4M170.8 154.5h6.4m-3.2 -3.2v6.4M171.2 150.6h6.4m-3.2 -3.2v6.4M171.5 142.2h6.4m-3.2 -3.2v6.4M171.8 137.7h6.4m-3.2 -3.2v6.4M172.1 128.1h6.4m-3.2 -3.2v6.4M172.4 130.6h6.4m-3.2 -3.2v6.4M172.7 122.0h6.4m-3.2 -3.2v6.4M173.0 124.3h6.4m-3.2 -3.2v6.4M173.3 125.2h6.4m-3.2 -3.2v6.4M173.6 110.1h6.4m-3.2 -3.2v6.4M173.9 98.5h6.4m-3.2 -3.2v6.4M174.2 111.2h6.4m-3.2 -3.2v6.4M174.5 106.5h6.4m-3.2 -3.2v6.4M174.8 122.4h6.4m-3.2 -3.2v6.4M175.1 128.4h6.4m-3.2 -3.2v6.4M175.4 133.0h6.4m-3.2 -3.2v6.4M175.7 138.0h6.4m-3.2 -3.2v6.4M176.0 148.7h6.4m-3.2 -3.2v6.4M176.3 149.9h6.4m-3.2 -3.2v6.4M176.6 155.5h6.4m-3.2 -3.2v6.4M176.9 161.2h6.4m-3.2 -3.2v6.4M177.2 176.7h6.4m-3.2 -3.2v6.4M177.5 181.7h6.4m-3.2 -3.2v6.4M177.8 167.6h6.4m-3.2 -3.2v6.4M178.1 160.3h6.4m-3.2 -3.2v6.4M178.4 173.4h6.4m-3.2 -3.2v6.4M178.7 161.9h6.4m-3.2 -3.2v6.4M179.0 167.7h6.4m-3.2 -3.2v6.4M179.3 153.9h6.4m-3.2 -3.2v6.4M179.6 149.2h6.4m-3.2 -3.2v6.4M179.9 153.0h6.4m-3.2 -3.2v6.4M180.2 150.4h6.4m-3.2 -3.2v6.4M180.5 136.9h6.4m-3.2 -3.2v6.4M180.8 132.8h6.4m-3.2 -3.2v6.4M181.1 140.4h6.4m-3.2 -3.2v6.4M181.4 141.5h6.4m-3.2 -3.2v6.4M181.7 155.7h6.4m-3.2 -3.2v6.4M182.0 150.5h6.4m-3.2 -3.2v6.4M182.3 149.6h6.4m-3.2 -3.2v6.4M182.6 152.7h6.4m-3.2 -3.2v6.4M182.9 148.8h6.4m-3.2 -3.2v6.4M183.2 164.5h6.4m-3.2 -3.2v6.4M183.5 172.0h6.4m-3.2 -3.2v6.4M183.8 161.4h6.4m-3.2 -3.2v6.4M184.1 169.1h6.4m-3.2 -3.2v6.4M184.4 167.9h6.4m-3.2 -3.2v6.4M184.7 168.9h6.4m-3.2 -3.2v6.4M185.0 172.8h6.4m-3.2 -3.2v6.4M185.3 172.2h6.4m-3.2 -3.2v6.4M185.6 176.1h6.4m-3.2 -3.2v6.4M185.9 194.1h6.4m-3.2 -3.2v6.4M186.2 189.3h6.4m-3.2 -3.2v6.4M186.5 172.2h6.4m-3.2 -3.2v6.4M186.8 177.3h6.4m-3.2 -3.2v6.4M187.1 164.8h6.4m-3.2 -3.2v6.4M187.4 164.3h6.4m-3.2 -3.2v6.4M187.8 161.8h6.4m-3.2 -3.2v6.4M188.1 147.5h6.4m-3.2 -3.2v6.4M188.4 144.5h6.4m-3.2 -3.2v6.4M188.7 144.6h6.4m-3.2 -3.2v6.4M189.0 132.6h6.4m-3.2 -3.2v6.4M189.3 131.5h6.4m-3.2 -3.2v6.4M189.6 141.8h6.4m-3.2 -3.2v6.4M189.9 139.0h6.4m-3.2 -3.2v6.4M190.2 146.9h6.4m-3.2 -3.2v6.4M190.5 156.9h6.4m-3.2 -3.2v6.4M190.8 155.2h6.4m-3.2 -3.2v6.4M191.1 153.1h6.4m-3.2 -3.2v6.4M191.4 140.2h6.4m-3.2 -3.2v6.4M191.7 134.6h6.4m-3.2 -3.2v6.4M192.0 134.3h6.4m-3.2 -3.2v6.4M192.3 127.4h6.4m-3.2 -3.2v6.4M192.6 115.7h6.4m-3.2 -3.2v6.4M192.9 122.9h6.4m-3.2 -3.2v6.4M193.2 121.1h6.4m-3.2 -3.2v6.4M193.5 126.4h6.4m-3.2 -3.2v6.4M193.8 132.9h6.4m-3.2 -3.2v6.4M194.1 142.3h6.4m-3.2 -3.2v6.4M194.4 149.3h6.4m-3.2 -3.2v6.4M194.7 148.8h6.4m-3.2 -3.2v6.4M195.0 160.3h6.4m-3.2 -3.2v6.4M195.3 163.6h6.4m-3.2 -3.2v6.4M195.6 178.9h6.4m-3.2 -3.2v6.4M195.9 175.4h6.4m-3.2 -3.2v6.4M196.2 164.0h6.4m-3.2 -3.2v6.4M196.5 172.4h6.4m-3.2 -3.2v6.4M196.8 171.5h6.4m-3.2 -3.2v6.4M197.1 162.0h6.4m-3.2 -3.2v6.4M197.4 150.3h6.4m-3.2 -3.2v6.4M197.7 148.4h6.4m-3.2 -3.2v6.4M198.0 154.3h6.4m-3.2 -3.2v6.4M198.3 152.2h6.4m-3.2 -3.2v6.4M198.6 148.2h6.4m-3.2 -3.2v6.4M198.9 150.2h6.4m-3.2 -3.2v6.4M199.2 143.3h6.4m-3.2 -3.2v6.4M199.5 142.4h6.4m-3.2 -3.2v6.4M199.8 145.3h6.4m-3.2 -3.2v6.4M200.1 138.1h6.4m-3.2 -3.2v6.4M200.4 133.6h6.4m-3.2 -3.2v6.4M200.7 133.4h6.4m-3.2 -3.2v6.4M201.0 131.4h6.4m-3.2 -3.2v6.4M201.3 118.5h6.4m-3.2 -3.2v6.4M201.6 110.4h6.4m-3.2 -3.2v6.4M201.9 117.6h6.4m-3.2 -3.2v6.4M202.2 127.4h6.4m-3.2 -3.2v6.4M202.5 128.0h6.4m-3.2 -3.2v6.4M202.8 136.4h6.4m-3.2 -3.2v6.4M203.1 143.7h6.4m-3.2 -3.2v6.4M203.4 137.6h6.4m-3.2 -3.2v6.4M203.7 153.1h6.4m-3.2 -3.2v6.4M204.1 154.7h6.4m-3.2 -3.2v6.4M204.4 158.2h6.4m-3.2 -3.2v6.4M204.7 163.6h6.4m-3.2 -3.2v6.4M205.0 165.1h6.4m-3.2 -3.2v6.4M205.3 166.1h6.4m-3.2 -3.2v6.4M205.6 167.1h6.4m-3.2 -3.2v6.4M205.9 181.7h6.4m-3.2 -3.2v6.4M206.2 174.4h6.4m-3.2 -3.2v6.4M206.5 168.2h6.4m-3.2 -3.2v6.4M206.8 151.4h6.4m-3.2 -3.2v6.4M207.1 147.0h6.4m-3.2 -3.2v6.4M207.4 133.0h6.4m-3.2 -3.2v6.4M207.7 116.1h6.4m-3.2 -3.2v6.4M208.0 106.8h6.4m-3.2 -3.2v6.4M208.3 112.4h6.4m-3.2 -3.2v6.4M208.6 119.9h6.4m-3.2 -3.2v6.4M208.9 121.2h6.4m-3.2 -3.2v6.4M209.2 125.1h6.4m-3.2 -3.2v6.4M209.5 134.4h6.4m-3.2 -3.2v6.4M209.8 136.4h6.4m-3.2 -3.2v6.4M210.1 133.4h6.4m-3.2 -3.2v6.4M210.4 148.4h6.4m-3.2 -3.2v6.4M210.7 146.2h6.4m-3.2 -3.2v6.4M211.0 153.6h6.4m-3.2 -3.2v6.4M211.3 145.0h6.4m-3.2 -3.2v6.4M211.6 154.0h6.4m-3.2 -3.2v6.4M211.9 159.2h6.4m-3.2 -3.2v6.4M212.2 164.7h6.4m-3.2 -3.2v6.4M212.5 171.6h6.4m-3.2 -3.2v6.4M212.8 166.8h6.4m-3.2 -3.2v6.4M213.1 172.4h6.4m-3.2 -3.2v6.4M213.4 160.5h6.4m-3.2 -3.2v6.4M213.7 155.9h6.4m-3.2 -3.2v6.4M214.0 162.7h6.4m-3.2 -3.2v6.4M214.3 149.5h6.4m-3.2 -3.2v6.4M214.6 148.3h6.4m-3.2 -3.2v6.4M214.9 156.3h6.4m-3.2 -3.2v6.4M215.2 148.6h6.4m-3.2 -3.2v6.4M215.5 144.9h6.4m-3.2 -3.2v6.4M215.8 142.8h6.4m-3.2 -3.2v6.4M216.1 135.2h6.4m-3.2 -3.2v6.4M216.4 132.8h6.4m-3.2 -3.2v6.4M216.7 136.0h6.4m-3.2 -3.2v6.4M217.0 136.7h6.4m-3.2 -3.2v6.4M217.3 137.0h6.4m-3.2 -3.2v6.4M217.6 142.8h6.4m-3.2 -3.2v6.4M217.9 146.7h6.4m-3.2 -3.2v6.4M218.2 144.6h6.4m-3.2 -3.2v6.4M218.5 159.5h6.4m-3.2 -3.2v6.4M218.8 147.5h6.4m-3.2 -3.2v6.4M219.1 155.0h6.4m-3.2 -3.2v6.4M219.4 161.6h6.4m-3.2 -3.2v6.4M219.7 160.0h6.4m-3.2 -3.2v6.4M220.0 169.1h6.4m-3.2 -3.2v6.4M220.3 172.6h6.4m-3.2 -3.2v6.4M220.7 167.1h6.4m-3.2 -3.2v6.4M221.0 172.0h6.4m-3.2 -3.2v6.4M221.3 171.6h6.4m-3.2 -3.2v6.4M221.6 168.8h6.4m-3.2 -3.2v6.4M221.9 162.9h6.4m-3.2 -3.2v6.4M222.2 154.3h6.4m-3.2 -3.2v6.4M222.5 135.9h6.4m-3.2 -3.2v6.4M222.8 138.1h6.4m-3.2 -3.2v6.4M223.1 134.0h6.4m-3.2 -3.2v6.4M223.4 128.0h6.4m-3.2 -3.2v6.4M223.7 116.9h6.4m-3.2 -3.2v6.4M224.0 124.5h6.4m-3.2 -3.2v6.4M224.3 126.8h6.4m-3.2 -3.2v6.4M224.6 128.0h6.4m-3.2 -3.2v6.4M224.9 131.7h6.4m-3.2 -3.2v6.4M225.2 139.8h6.4m-3.2 -3.2v6.4M225.5 149.0h6.4m-3.2 -3.2v6.4M225.8 155.2h6.4m-3.2 -3.2v6.4M226.1 167.6h6.4m-3.2 -3.2v6.4M226.4 158.4h6.4m-3.2 -3.2v6.4M226.7 148.2h6.4m-3.2 -3.2v6.4M227.0 148.8h6.4m-3.2 -3.2v6.4M227.3 142.9h6.4m-3.2 -3.2v6.4M227.6 148.8h6.4m-3.2 -3.2v6.4M227.9 135.2h6.4m-3.2 -3.2v6.4M228.2 134.8h6.4m-3.2 -3.2v6.4M228.5 131.5h6.4m-3.2 -3.2v6.4M228.8 131.9h6.4m-3.2 -3.2v6.4M229.1 147.8h6.4m-3.2 -3.2v6.4M229.4 142.9h6.4m-3.2 -3.2v6.4M229.7 147.6h6.4m-3.2 -3.2v6.4M230.0 137.5h6.4m-3.2 -3.2v6.4M230.3 149.7h6.4m-3.2 -3.2v6.4M230.6 153.4h6.4m-3.2 -3.2v6.4M230.9 149.0h6.4m-3.2 -3.2v6.4M231.2 160.6h6.4m-3.2 -3.2v6.4M231.5 151.7h6.4m-3.2 -3.2v6.4M231.8 164.8h6.4m-3.2 -3.2v6.4M232.1 164.8h6.4m-3.2 -3.2v6.4M232.4 172.2h6.4m-3.2 -3.2v6.4M232.7 170.9h6.4m-3.2 -3.2v6.4M233.0 174.3h6.4m-3.2 -3.2v6.4M233.3 154.7h6.4m-3.2 -3.2v6.4M233.6 156.7h6.4m-3.2 -3.2v6.4M233.9 148.4h6.4m-3.2 -3.2v6.4M234.2 148.8h6.4m-3.2 -3.2v6.4M234.5 136.2h6.4m-3.2 -3.2v6.4M234.8 131.5h6.4m-3.2 -3.2v6.4M235.1 131.0h6.4m-3.2 -3.2v6.4M235.4 134.2h6.4m-3.2 -3.2v6.4M235.7 134.7h6.4m-3.2 -3.2v6.4M236.0 134.8h6.4m-3.2 -3.2v6.4M236.3 143.2h6.4m-3.2 -3.2v6.4M236.6 148.7h6.4m-3.2 -3.2v6.4M237.0 150.9h6.4m-3.2 -3.2v6.4M237.3 143.2h6.4m-3.2 -3.2v6.4M237.6 149.8h6.4m-3.2 -3.2v6.4M237.9 144.4h6.4m-3.2 -3.2v6.4M238.2 150.5h6.4m-3.2 -3.2v6.4M238.5 156.6h6.4m-3.2 -3.2v6.4M238.8 148.8h6.4m-3.2 -3.2v6.4M239.1 145.3h6.4m-3.2 -3.2v6.4M239.4 157.0h6.4m-3.2 -3.2v6.4M239.7 162.3h6.4m-3.2 -3.2v6.4M240.0 163.5h6.4m-3.2 -3.2v6.4M240.3 157.0h6.4m-3.2 -3.2v6.4M240.6 165.9h6.4m-3.2 -3.2v6.4M240.9 166.9h6.4m-3.2 -3.2v6.4M241.2 163.6h6.4m-3.2 -3.2v6.4M241.5 168.8h6.4m-3.2 -3.2v6.4M241.8 170.9h6.4m-3.2 -3.2v6.4M242.1 166.5h6.4m-3.2 -3.2v6.4M242.4 159.8h6.4m-3.2 -3.2v6.4M242.7 149.3h6.4m-3.2 -3.2v6.4M243.0 143.6h6.4m-3.2 -3.2v6.4M243.3 136.8h6.4m-3.2 -3.2v6.4M243.6 136.0h6.4m-3.2 -3.2v6.4M243.9 125.2h6.4m-3.2 -3.2v6.4M244.2 117.3h6.4m-3.2 -3.2v6.4M244.5 114.4h6.4m-3.2 -3.2v6.4M244.8 118.7h6.4m-3.2 -3.2v6.4M245.1 121.5h6.4m-3.2 -3.2v6.4M245.4 130.0h6.4m-3.2 -3.2v6.4M245.7 134.4h6.4m-3.2 -3.2v6.4M246.0 142.8h6.4m-3.2 -3.2v6.4M246.3 140.9h6.4m-3.2 -3.2v6.4M246.6 147.7h6.4m-3.2 -3.2v6.4M246.9 153.9h6.4m-3.2 -3.2v6.4M247.2 159.1h6.4m-3.2 -3.2v6.4M247.5 145.7h6.4m-3.2 -3.2v6.4M247.8 129.9h6.4m-3.2 -3.2v6.4M248.1 134.2h6.4m-3.2 -3.2v6.4M248.4 130.8h6.4m-3.2 -3.2v6.4M248.7 124.9h6.4m-3.2 -3.2v6.4M249.0 124.4h6.4m-3.2 -3.2v6.4M249.3 115.1h6.4m-3.2 -3.2v6.4M249.6 112.3h6.4m-3.2 -3.2v6.4M249.9 103.0h6.4m-3.2 -3.2v6.4M250.2 107.1h6.4m-3.2 -3.2v6.4M250.5 111.8h6.4m-3.2 -3.2v6.4M250.8 118.0h6.4m-3.2 -3.2v6.4M251.1 125.7h6.4m-3.2 -3.2v6.4M251.4 124.9h6.4m-3.2 -3.2v6.4M251.7 135.5h6.4m-3.2 -3.2v6.4M252.0 130.5h6.4m-3.2 -3.2v6.4M252.3 139.4h6.4m-3.2 -3.2v6.4M252.6 140.8h6.4m-3.2 -3.2v6.4M252.9 139.8h6.4m-3.2 -3.2v6.4M253.2 144.4h6.4m-3.2 -3.2v6.4M253.6 156.9h6.4m-3.2 -3.2v6.4M253.9 156.0h6.4m-3.2 -3.2v6.4M254.2 157.2h6.4m-3.2 -3.2v6.4M254.5 168.5h6.4m-3.2 -3.2v6.4M254.8 179.3h6.4m-3.2 -3.2v6.4M255.1 172.9h6.4m-3.2 -3.2v6.4M255.4 179.5h6.4m-3.2 -3.2v6.4M255.7 172.4h6.4m-3.2 -3.2v6.4M256.0 165.2h6.4m-3.2 -3.2v6.4M256.3 156.8h6.4m-3.2 -3.2v6.4M256.6 149.0h6.4m-3.2 -3.2v6.4M256.9 137.9h6.4m-3.2 -3.2v6.4M257.2 135.0h6.4m-3.2 -3.2v6.4M257.5 126.7h6.4m-3.2 -3.2v6.4M257.8 122.4h6.4m-3.2 -3.2v6.4M258.1 113.8h6.4m-3.2 -3.2v6.4M258.4 123.3h6.4m-3.2 -3.2v6.4M258.7 125.3h6.4m-3.2 -3.2v6.4M259.0 144.7h6.4m-3.2 -3.2v6.4M259.3 138.0h6.4m-3.2 -3.2v6.4M259.6 144.7h6.4m-3.2 -3.2v6.4M259.9 152.3h6.4m-3.2 -3.2v6.4M260.2 150.5h6.4m-3.2 -3.2v6.4M260.5 161.7h6.4m-3.2 -3.2v6.4M260.8 157.6h6.4m-3.2 -3.2v6.4M261.1 152.9h6.4m-3.2 -3.2v6.4M261.4 135.5h6.4m-3.2 -3.2v6.4M261.7 135.8h6.4m-3.2 -3.2v6.4M262.0 131.7h6.4m-3.2 -3.2v6.4M262.3 132.7h6.4m-3.2 -3.2v6.4M262.6 116.5h6.4m-3.2 -3.2v6.4M262.9 113.8h6.4m-3.2 -3.2v6.4M263.2 118.8h6.4m-3.2 -3.2v6.4M263.5 123.2h6.4m-3.2 -3.2v6.4M263.8 135.4h6.4m-3.2 -3.2v6.4M264.1 129.1h6.4m-3.2 -3.2v6.4M264.4 141.4h6.4m-3.2 -3.2v6.4M264.7 135.4h6.4m-3.2 -3.2v6.4M265.0 145.6h6.4m-3.2 -3.2v6.4M265.3 151.1h6.4m-3.2 -3.2v6.4M265.6 151.3h6.4m-3.2 -3.2v6.4M265.9 157.3h6.4m-3.2 -3.2v6.4M266.2 161.4h6.4m-3.2 -3.2v6.4M266.5 159.4h6.4m-3.2 -3.2v6.4M266.8 154.5h6.4m-3.2 -3.2v6.4M267.1 157.0h6.4m-3.2 -3.2v6.4M267.4 160.7h6.4m-3.2 -3.2v6.4M267.7 153.9h6.4m-3.2 -3.2v6.4M268.0 155.9h6.4m-3.2 -3.2v6.4M268.3 152.7h6.4m-3.2 -3.2v6.4M268.6 148.5h6.4m-3.2 -3.2v6.4M268.9 147.8h6.4m-3.2 -3.2v6.4M269.2 147.7h6.4m-3.2 -3.2v6.4M269.5 153.4h6.4m-3.2 -3.2v6.4M269.9 142.6h6.4m-3.2 -3.2v6.4M270.2 143.9h6.4m-3.2 -3.2v6.4M270.5 143.4h6.4m-3.2 -3.2v6.4M270.8 139.3h6.4m-3.2 -3.2v6.4M271.1 129.3h6.4m-3.2 -3.2v6.4M271.4 143.0h6.4m-3.2 -3.2v6.4M271.7 142.9h6.4m-3.2 -3.2v6.4M272.0 132.8h6.4m-3.2 -3.2v6.4M272.3 138.3h6.4m-3.2 -3.2v6.4M272.6 131.3h6.4m-3.2 -3.2v6.4M272.9 145.0h6.4m-3.2 -3.2v6.4M273.2 145.3h6.4m-3.2 -3.2v6.4M273.5 141.4h6.4m-3.2 -3.2v6.4M273.8 142.9h6.4m-3.2 -3.2v6.4M274.1 147.4h6.4m-3.2 -3.2v6.4M274.4 149.9h6.4m-3.2 -3.2v6.4M274.7 155.5h6.4m-3.2 -3.2v6.4M275.0 160.0h6.4m-3.2 -3.2v6.4M275.3 160.1h6.4m-3.2 -3.2v6.4M275.6 147.6h6.4m-3.2 -3.2v6.4M275.9 145.4h6.4m-3.2 -3.2v6.4M276.2 143.9h6.4m-3.2 -3.2v6.4M276.5 138.0h6.4m-3.2 -3.2v6.4M276.8 131.3h6.4m-3.2 -3.2v6.4M277.1 125.6h6.4m-3.2 -3.2v6.4M277.4 128.4h6.4m-3.2 -3.2v6.4M277.7 125.2h6.4m-3.2 -3.2v6.4M278.0 119.6h6.4m-3.2 -3.2v6.4M278.3 104.7h6.4m-3.2 -3.2v6.4M278.6 111.5h6.4m-3.2 -3.2v6.4M278.9 102.1h6.4m-3.2 -3.2v6.4M279.2 110.6h6.4m-3.2 -3.2v6.4M279.5 94.3h6.4m-3.2 -3.2v6.4M279.8 93.4h6.4m-3.2 -3.2v6.4M280.1 103.9h6.4m-3.2 -3.2v6.4M280.4 106.7h6.4m-3.2 -3.2v6.4M280.7 109.3h6.4m-3.2 -3.2v6.4M281.0 112.5h6.4m-3.2 -3.2v6.4M281.3 116.1h6.4m-3.2 -3.2v6.4M281.6 121.1h6.4m-3.2 -3.2v6.4M281.9 128.4h6.4m-3.2 -3.2v6.4M282.2 117.8h6.4m-3.2 -3.2v6.4M282.5 131.4h6.4m-3.2 -3.2v6.4M282.8 133.1h6.4m-3.2 -3.2v6.4M283.1 130.4h6.4m-3.2 -3.2v6.4M283.4 139.5h6.4m-3.2 -3.2v6.4M283.7 145.6h6.4m-3.2 -3.2v6.4M284.0 151.4h6.4m-3.2 -3.2v6.4M284.3 148.8h6.4m-3.2 -3.2v6.4M284.6 167.5h6.4m-3.2 -3.2v6.4M284.9 171.9h6.4m-3.2 -3.2v6.4M285.2 173.5h6.4m-3.2 -3.2v6.4M285.5 180.2h6.4m-3.2 -3.2v6.4M285.8 170.8h6.4m-3.2 -3.2v6.4M286.1 158.4h6.4m-3.2 -3.2v6.4M286.5 162.6h6.4m-3.2 -3.2v6.4M286.8 156.6h6.4m-3.2 -3.2v6.4M287.1 151.2h6.4m-3.2 -3.2v6.4M287.4 157.4h6.4m-3.2 -3.2v6.4M287.7 148.5h6.4m-3.2 -3.2v6.4M288.0 150.4h6.4m-3.2 -3.2v6.4M288.3 149.8h6.4m-3.2 -3.2v6.4M288.6 143.0h6.4m-3.2 -3.2v6.4M288.9 138.8h6.4m-3.2 -3.2v6.4M289.2 137.1h6.4m-3.2 -3.2v6.4M289.5 135.0h6.4m-3.2 -3.2v6.4M289.8 126.8h6.4m-3.2 -3.2v6.4M290.1 122.8h6.4m-3.2 -3.2v6.4M290.4 128.2h6.4m-3.2 -3.2v6.4M290.7 133.8h6.4m-3.2 -3.2v6.4M291.0 140.7h6.4m-3.2 -3.2v6.4M291.3 141.8h6.4m-3.2 -3.2v6.4M291.6 145.3h6.4m-3.2 -3.2v6.4M291.9 141.1h6.4m-3.2 -3.2v6.4M292.2 139.3h6.4m-3.2 -3.2v6.4M292.5 141.0h6.4m-3.2 -3.2v6.4M292.8 147.4h6.4m-3.2 -3.2v6.4M293.1 151.3h6.4m-3.2 -3.2v6.4M293.4 150.9h6.4m-3.2 -3.2v6.4M293.7 153.6h6.4m-3.2 -3.2v6.4M294.0 153.9h6.4m-3.2 -3.2v6.4M294.3 160.1h6.4m-3.2 -3.2v6.4M294.6 162.1h6.4m-3.2 -3.2v6.4M294.9 147.1h6.4m-3.2 -3.2v6.4M295.2 165.1h6.4m-3.2 -3.2v6.4M295.5 161.8h6.4m-3.2 -3.2v6.4M295.8 158.8h6.4m-3.2 -3.2v6.4M296.1 154.7h6.4m-3.2 -3.2v6.4M296.4 149.3h6.4m-3.2 -3.2v6.4M296.7 136.8h6.4m-3.2 -3.2v6.4M297.0 148.3h6.4m-3.2 -3.2v6.4M297.3 138.3h6.4m-3.2 -3.2v6.4M297.6 143.7h6.4m-3.2 -3.2v6.4M297.9 140.0h6.4m-3.2 -3.2v6.4M298.2 144.3h6.4m-3.2 -3.2v6.4M298.5 127.7h6.4m-3.2 -3.2v6.4M298.8 137.4h6.4m-3.2 -3.2v6.4M299.1 138.8h6.4m-3.2 -3.2v6.4M299.4 123.7h6.4m-3.2 -3.2v6.4M299.7 132.1h6.4m-3.2 -3.2v6.4M300.0 129.4h6.4m-3.2 -3.2v6.4M300.3 130.5h6.4m-3.2 -3.2v6.4M300.6 132.0h6.4m-3.2 -3.2v6.4M300.9 133.1h6.4m-3.2 -3.2v6.4M301.2 125.5h6.4m-3.2 -3.2v6.4M301.5 115.2h6.4m-3.2 -3.2v6.4M301.8 119.0h6.4m-3.2 -3.2v6.4M302.1 120.0h6.4m-3.2 -3.2v6.4M302.4 117.6h6.4m-3.2 -3.2v6.4M302.8 133.5h6.4m-3.2 -3.2v6.4M303.1 131.8h6.4m-3.2 -3.2v6.4M303.4 146.8h6.4m-3.2 -3.2v6.4M303.7 157.5h6.4m-3.2 -3.2v6.4M304.0 157.3h6.4m-3.2 -3.2v6.4M304.3 166.5h6.4m-3.2 -3.2v6.4M304.6 179.8h6.4m-3.2 -3.2v6.4M304.9 189.3h6.4m-3.2 -3.2v6.4M305.2 177.8h6.4m-3.2 -3.2v6.4M305.5 168.2h6.4m-3.2 -3.2v6.4M305.8 171.6h6.4m-3.2 -3.2v6.4M306.1 173.4h6.4m-3.2 -3.2v6.4M306.4 145.5h6.4m-3.2 -3.2v6.4M306.7 151.6h6.4m-3.2 -3.2v6.4M307.0 146.3h6.4m-3.2 -3.2v6.4M307.3 135.6h6.4m-3.2 -3.2v6.4M307.6 132.4h6.4m-3.2 -3.2v6.4M307.9 117.8h6.4m-3.2 -3.2v6.4M308.2 116.9h6.4m-3.2 -3.2v6.4M308.5 124.6h6.4m-3.2 -3.2v6.4M308.8 134.6h6.4m-3.2 -3.2v6.4M309.1 126.2h6.4m-3.2 -3.2v6.4M309.4 138.9h6.4m-3.2 -3.2v6.4M309.7 136.4h6.4m-3.2 -3.2v6.4M310.0 138.2h6.4m-3.2 -3.2v6.4M310.3 154.4h6.4m-3.2 -3.2v6.4M310.6 154.3h6.4m-3.2 -3.2v6.4M310.9 154.7h6.4m-3.2 -3.2v6.4M311.2 162.9h6.4m-3.2 -3.2v6.4M311.5 168.4h6.4m-3.2 -3.2v6.4M311.8 160.2h6.4m-3.2 -3.2v6.4M312.1 155.7h6.4m-3.2 -3.2v6.4M312.4 158.9h6.4m-3.2 -3.2v6.4M312.7 152.8h6.4m-3.2 -3.2v6.4M313.0 145.4h6.4m-3.2 -3.2v6.4M313.3 143.9h6.4m-3.2 -3.2v6.4M313.6 140.8h6.4m-3.2 -3.2v6.4M313.9 143.7h6.4m-3.2 -3.2v6.4M314.2 127.3h6.4m-3.2 -3.2v6.4M314.5 134.3h6.4m-3.2 -3.2v6.4M314.8 129.0h6.4m-3.2 -3.2v6.4M315.1 127.2h6.4m-3.2 -3.2v6.4M315.4 123.2h6.4m-3.2 -3.2v6.4M315.7 119.2h6.4m-3.2 -3.2v6.4M316.0 120.0h6.4m-3.2 -3.2v6.4M316.3 110.4h6.4m-3.2 -3.2v6.4M316.6 102.4h6.4m-3.2 -3.2v6.4M316.9 102.1h6.4m-3.2 -3.2v6.4M317.2 101.7h6.4m-3.2 -3.2v6.4M317.5 131.9h6.4m-3.2 -3.2v6.4M317.8 151.7h6.4m-3.2 -3.2v6.4M318.1 160.5h6.4m-3.2 -3.2v6.4M318.4 251.6h6.4m-3.2 -3.2v6.4M318.7 268.7h6.4m-3.2 -3.2v6.4M319.0 261.7h6.4m-3.2 -3.2v6.4M319.4 202.7h6.4m-3.2 -3.2v6.4M319.7 170.7h6.4m-3.2 -3.2v6.4M320.0 161.4h6.4m-3.2 -3.2v6.4M320.3 140.0h6.4m-3.2 -3.2v6.4M320.6 144.3h6.4m-3.2 -3.2v6.4M320.9 133.2h6.4m-3.2 -3.2v6.4M321.2 122.5h6.4m-3.2 -3.2v6.4M321.5 115.5h6.4m-3.2 -3.2v6.4M321.8 114.6h6.4m-3.2 -3.2v6.4M322.1 104.9h6.4m-3.2 -3.2v6.4M322.4 85.7h6.4m-3.2 -3.2v6.4M322.7 73.1h6.4m-3.2 -3.2v6.4M323.0 92.5h6.4m-3.2 -3.2v6.4M323.3 109.7h6.4m-3.2 -3.2v6.4M323.6 126.6h6.4m-3.2 -3.2v6.4M323.9 147.9h6.4m-3.2 -3.2v6.4M324.2 163.0h6.4m-3.2 -3.2v6.4M324.5 167.6h6.4m-3.2 -3.2v6.4M324.8 193.6h6.4m-3.2 -3.2v6.4M325.1 211.6h6.4m-3.2 -3.2v6.4M325.4 211.3h6.4m-3.2 -3.2v6.4M325.7 189.5h6.4m-3.2 -3.2v6.4M326.0 188.5h6.4m-3.2 -3.2v6.4M326.3 178.5h6.4m-3.2 -3.2v6.4M326.6 162.2h6.4m-3.2 -3.2v6.4M326.9 156.2h6.4m-3.2 -3.2v6.4M327.2 149.0h6.4m-3.2 -3.2v6.4M327.5 150.5h6.4m-3.2 -3.2v6.4M327.8 149.9h6.4m-3.2 -3.2v6.4M328.1 132.2h6.4m-3.2 -3.2v6.4M328.4 119.7h6.4m-3.2 -3.2v6.4M328.7 111.7h6.4m-3.2 -3.2v6.4M329.0 95.3h6.4m-3.2 -3.2v6.4M329.3 98.8h6.4m-3.2 -3.2v6.4M329.6 112.8h6.4m-3.2 -3.2v6.4M329.9 112.2h6.4m-3.2 -3.2v6.4M330.2 122.4h6.4m-3.2 -3.2v6.4M330.5 130.6h6.4m-3.2 -3.2v6.4M330.8 129.2h6.4m-3.2 -3.2v6.4M331.1 148.3h6.4m-3.2 -3.2v6.4M331.4 140.9h6.4m-3.2 -3.2v6.4M331.7 144.8h6.4m-3.2 -3.2v6.4M332.0 164.6h6.4m-3.2 -3.2v6.4M332.3 161.4h6.4m-3.2 -3.2v6.4M332.6 167.4h6.4m-3.2 -3.2v6.4M332.9 178.4h6.4m-3.2 -3.2v6.4M333.2 182.4h6.4m-3.2 -3.2v6.4M333.5 219.2h6.4m-3.2 -3.2v6.4M333.8 247.1h6.4m-3.2 -3.2v6.4M334.1 298.6h6.4m-3.2 -3.2v6.4M334.4 285.2h6.4m-3.2 -3.2v6.4M334.7 202.7h6.4m-3.2 -3.2v6.4M335.0 154.6h6.4m-3.2 -3.2v6.4M335.3 149.9h6.4m-3.2 -3.2v6.4M335.6 131.5h6.4m-3.2 -3.2v6.4M336.0 113.2h6.4m-3.2 -3.2v6.4M336.3 73.1h6.4m-3.2 -3.2v6.4M336.6 66.1h6.4m-3.2 -3.2v6.4M336.9 54.7h6.4m-3.2 -3.2v6.4M337.2 88.4h6.4m-3.2 -3.2v6.4M337.5 102.5h6.4m-3.2 -3.2v6.4M337.8 117.2h6.4m-3.2 -3.2v6.4M338.1 113.6h6.4m-3.2 -3.2v6.4M338.4 129.5h6.4m-3.2 -3.2v6.4M338.7 131.9h6.4m-3.2 -3.2v6.4M339.0 130.5h6.4m-3.2 -3.2v6.4M339.3 152.4h6.4m-3.2 -3.2v6.4M339.6 159.3h6.4m-3.2 -3.2v6.4M339.9 162.1h6.4m-3.2 -3.2v6.4M340.2 176.5h6.4m-3.2 -3.2v6.4M340.5 183.5h6.4m-3.2 -3.2v6.4M340.8 197.0h6.4m-3.2 -3.2v6.4M341.1 178.2h6.4m-3.2 -3.2v6.4M341.4 182.9h6.4m-3.2 -3.2v6.4M341.7 178.8h6.4m-3.2 -3.2v6.4M342.0 174.4h6.4m-3.2 -3.2v6.4M342.3 168.0h6.4m-3.2 -3.2v6.4M342.6 172.5h6.4m-3.2 -3.2v6.4M342.9 161.3h6.4m-3.2 -3.2v6.4M343.2 151.9h6.4m-3.2 -3.2v6.4M343.5 156.9h6.4m-3.2 -3.2v6.4M343.8 147.4h6.4m-3.2 -3.2v6.4M344.1 144.8h6.4m-3.2 -3.2v6.4M344.4 142.7h6.4m-3.2 -3.2v6.4M344.7 123.9h6.4m-3.2 -3.2v6.4M345.0 127.7h6.4m-3.2 -3.2v6.4M345.3 124.5h6.4m-3.2 -3.2v6.4M345.6 124.7h6.4m-3.2 -3.2v6.4M345.9 115.2h6.4m-3.2 -3.2v6.4M346.2 111.6h6.4m-3.2 -3.2v6.4M346.5 105.0h6.4m-3.2 -3.2v6.4M346.8 97.3h6.4m-3.2 -3.2v6.4M347.1 90.3h6.4m-3.2 -3.2v6.4M347.4 102.6h6.4m-3.2 -3.2v6.4M347.7 107.3h6.4m-3.2 -3.2v6.4M348.0 115.2h6.4m-3.2 -3.2v6.4M348.3 114.4h6.4m-3.2 -3.2v6.4M348.6 136.7h6.4m-3.2 -3.2v6.4M348.9 145.1h6.4m-3.2 -3.2v6.4M349.2 142.9h6.4m-3.2 -3.2v6.4M349.5 146.6h6.4m-3.2 -3.2v6.4M349.8 152.2h6.4m-3.2 -3.2v6.4M350.1 160.5h6.4m-3.2 -3.2v6.4M350.4 159.9h6.4m-3.2 -3.2v6.4M350.7 160.9h6.4m-3.2 -3.2v6.4M351.0 174.2h6.4m-3.2 -3.2v6.4M351.3 214.1h6.4m-3.2 -3.2v6.4M351.6 266.2h6.4m-3.2 -3.2v6.4M351.9 284.0h6.4m-3.2 -3.2v6.4M352.3 205.9h6.4m-3.2 -3.2v6.4M352.6 169.8h6.4m-3.2 -3.2v6.4M352.9 169.8h6.4m-3.2 -3.2v6.4M353.2 139.0h6.4m-3.2 -3.2v6.4M353.5 139.8h6.4m-3.2 -3.2v6.4M353.8 125.9h6.4m-3.2 -3.2v6.4M354.1 69.3h6.4m-3.2 -3.2v6.4M354.4 45.2h6.4m-3.2 -3.2v6.4M354.7 22.9h6.4m-3.2 -3.2v6.4M355.0 78.8h6.4m-3.2 -3.2v6.4M355.3 114.4h6.4m-3.2 -3.2v6.4M355.6 126.0h6.4m-3.2 -3.2v6.4M355.9 121.4h6.4m-3.2 -3.2v6.4M356.2 149.8h6.4m-3.2 -3.2v6.4M356.5 149.6h6.4m-3.2 -3.2v6.4M356.8 164.0h6.4m-3.2 -3.2v6.4M357.1 182.0h6.4m-3.2 -3.2v6.4M357.4 187.4h6.4m-3.2 -3.2v6.4M357.7 188.6h6.4m-3.2 -3.2v6.4M358.0 174.0h6.4m-3.2 -3.2v6.4M358.3 168.9h6.4m-3.2 -3.2v6.4M358.6 161.6h6.4m-3.2 -3.2v6.4M358.9 161.2h6.4m-3.2 -3.2v6.4M359.2 144.9h6.4m-3.2 -3.2v6.4M359.5 145.4h6.4m-3.2 -3.2v6.4M359.8 148.8h6.4m-3.2 -3.2v6.4M360.1 144.0h6.4m-3.2 -3.2v6.4M360.4 131.7h6.4m-3.2 -3.2v6.4M360.7 133.0h6.4m-3.2 -3.2v6.4M361.0 119.5h6.4m-3.2 -3.2v6.4M361.3 113.8h6.4m-3.2 -3.2v6.4M361.6 111.8h6.4m-3.2 -3.2v6.4M361.9 100.4h6.4m-3.2 -3.2v6.4M362.2 117.3h6.4m-3.2 -3.2v6.4M362.5 123.8h6.4m-3.2 -3.2v6.4M362.8 140.8h6.4m-3.2 -3.2v6.4M363.1 139.5h6.4m-3.2 -3.2v6.4M363.4 162.1h6.4m-3.2 -3.2v6.4M363.7 171.8h6.4m-3.2 -3.2v6.4M364.0 192.5h6.4m-3.2 -3.2v6.4M364.3 182.5h6.4m-3.2 -3.2v6.4M364.6 169.1h6.4m-3.2 -3.2v6.4M364.9 154.4h6.4m-3.2 -3.2v6.4M365.2 149.8h6.4m-3.2 -3.2v6.4M365.5 139.5h6.4m-3.2 -3.2v6.4M365.8 133.0h6.4m-3.2 -3.2v6.4M366.1 110.4h6.4m-3.2 -3.2v6.4M366.4 107.0h6.4m-3.2 -3.2v6.4M366.7 96.6h6.4m-3.2 -3.2v6.4M367.0 128.9h6.4m-3.2 -3.2v6.4M367.3 132.1h6.4m-3.2 -3.2v6.4M367.6 148.8h6.4m-3.2 -3.2v6.4M367.9 154.4h6.4m-3.2 -3.2v6.4M368.2 167.8h6.4m-3.2 -3.2v6.4M368.5 184.3h6.4m-3.2 -3.2v6.4M368.9 195.6h6.4m-3.2 -3.2v6.4M369.2 212.8h6.4m-3.2 -3.2v6.4M369.5 201.9h6.4m-3.2 -3.2v6.4M369.8 202.8h6.4m-3.2 -3.2v6.4M370.1 188.6h6.4m-3.2 -3.2v6.4M370.4 190.3h6.4m-3.2 -3.2v6.4M370.7 178.3h6.4m-3.2 -3.2v6.4M371.0 179.6h6.4m-3.2 -3.2v6.4M371.3 165.2h6.4m-3.2 -3.2v6.4M371.6 154.4h6.4m-3.2 -3.2v6.4M371.9 162.9h6.4m-3.2 -3.2v6.4M372.2 150.8h6.4m-3.2 -3.2v6.4M372.5 158.2h6.4m-3.2 -3.2v6.4M372.8 148.5h6.4m-3.2 -3.2v6.4M373.1 126.7h6.4m-3.2 -3.2v6.4M373.4 133.4h6.4m-3.2 -3.2v6.4M373.7 124.1h6.4m-3.2 -3.2v6.4M374.0 127.4h6.4m-3.2 -3.2v6.4M374.3 114.7h6.4m-3.2 -3.2v6.4M374.6 134.7h6.4m-3.2 -3.2v6.4M374.9 136.7h6.4m-3.2 -3.2v6.4M375.2 154.3h6.4m-3.2 -3.2v6.4M375.5 148.7h6.4m-3.2 -3.2v6.4M375.8 177.5h6.4m-3.2 -3.2v6.4M376.1 189.3h6.4m-3.2 -3.2v6.4M376.4 194.4h6.4m-3.2 -3.2v6.4M376.7 180.2h6.4m-3.2 -3.2v6.4M377.0 166.1h6.4m-3.2 -3.2v6.4M377.3 166.4h6.4m-3.2 -3.2v6.4M377.6 166.3h6.4m-3.2 -3.2v6.4M377.9 152.5h6.4m-3.2 -3.2v6.4M378.2 145.9h6.4m-3.2 -3.2v6.4M378.5 144.2h6.4m-3.2 -3.2v6.4M378.8 136.5h6.4m-3.2 -3.2v6.4M379.1 142.4h6.4m-3.2 -3.2v6.4M379.4 121.0h6.4m-3.2 -3.2v6.4M379.7 120.0h6.4m-3.2 -3.2v6.4M380.0 126.9h6.4m-3.2 -3.2v6.4M380.3 110.6h6.4m-3.2 -3.2v6.4M380.6 125.3h6.4m-3.2 -3.2v6.4M380.9 131.7h6.4m-3.2 -3.2v6.4M381.2 153.9h6.4m-3.2 -3.2v6.4M381.5 156.9h6.4m-3.2 -3.2v6.4M381.8 170.1h6.4m-3.2 -3.2v6.4M382.1 165.4h6.4m-3.2 -3.2v6.4M382.4 180.2h6.4m-3.2 -3.2v6.4M382.7 194.0h6.4m-3.2 -3.2v6.4M383.0 202.5h6.4m-3.2 -3.2v6.4M383.3 210.9h6.4m-3.2 -3.2v6.4M383.6 208.4h6.4m-3.2 -3.2v6.4M383.9 196.6h6.4m-3.2 -3.2v6.4M384.2 199.6h6.4m-3.2 -3.2v6.4M384.5 196.7h6.4m-3.2 -3.2v6.4M384.8 186.0h6.4m-3.2 -3.2v6.4M385.2 180.2h6.4m-3.2 -3.2v6.4M385.5 173.2h6.4m-3.2 -3.2v6.4M385.8 165.0h6.4m-3.2 -3.2v6.4M386.1 167.1h6.4m-3.2 -3.2v6.4M386.4 162.7h6.4m-3.2 -3.2v6.4M386.7 153.6h6.4m-3.2 -3.2v6.4M387.0 152.2h6.4m-3.2 -3.2v6.4M387.3 151.0h6.4m-3.2 -3.2v6.4M387.6 145.6h6.4m-3.2 -3.2v6.4M387.9 152.9h6.4m-3.2 -3.2v6.4M388.2 140.5h6.4m-3.2 -3.2v6.4M388.5 140.8h6.4m-3.2 -3.2v6.4M388.8 130.0h6.4m-3.2 -3.2v6.4M389.1 119.0h6.4m-3.2 -3.2v6.4M389.4 126.1h6.4m-3.2 -3.2v6.4M389.7 108.5h6.4m-3.2 -3.2v6.4M390.0 110.1h6.4m-3.2 -3.2v6.4M390.3 99.8h6.4m-3.2 -3.2v6.4M390.6 109.3h6.4m-3.2 -3.2v6.4M390.9 115.0h6.4m-3.2 -3.2v6.4M391.2 131.6h6.4m-3.2 -3.2v6.4M391.5 146.1h6.4m-3.2 -3.2v6.4M391.8 144.0h6.4m-3.2 -3.2v6.4M392.1 157.1h6.4m-3.2 -3.2v6.4M392.4 168.4h6.4m-3.2 -3.2v6.4M392.7 159.1h6.4m-3.2 -3.2v6.4M393.0 161.4h6.4m-3.2 -3.2v6.4M393.3 148.8h6.4m-3.2 -3.2v6.4M393.6 143.9h6.4m-3.2 -3.2v6.4M393.9 140.4h6.4m-3.2 -3.2v6.4M394.2 135.2h6.4m-3.2 -3.2v6.4M394.5 128.8h6.4m-3.2 -3.2v6.4M394.8 127.1h6.4m-3.2 -3.2v6.4M395.1 118.9h6.4m-3.2 -3.2v6.4M395.4 111.9h6.4m-3.2 -3.2v6.4M395.7 125.3h6.4m-3.2 -3.2v6.4M396.0 128.2h6.4m-3.2 -3.2v6.4M396.3 139.8h6.4m-3.2 -3.2v6.4M396.6 146.6h6.4m-3.2 -3.2v6.4M396.9 149.0h6.4m-3.2 -3.2v6.4M397.2 151.3h6.4m-3.2 -3.2v6.4M397.5 151.4h6.4m-3.2 -3.2v6.4M397.8 166.6h6.4m-3.2 -3.2v6.4M398.1 168.8h6.4m-3.2 -3.2v6.4M398.4 183.0h6.4m-3.2 -3.2v6.4M398.7 176.8h6.4m-3.2 -3.2v6.4M399.0 184.6h6.4m-3.2 -3.2v6.4M399.3 162.1h6.4m-3.2 -3.2v6.4M399.6 155.6h6.4m-3.2 -3.2v6.4M399.9 154.3h6.4m-3.2 -3.2v6.4M400.2 142.6h6.4m-3.2 -3.2v6.4M400.5 130.6h6.4m-3.2 -3.2v6.4M400.8 138.7h6.4m-3.2 -3.2v6.4M401.1 130.7h6.4m-3.2 -3.2v6.4M401.4 118.2h6.4m-3.2 -3.2v6.4M401.8 124.8h6.4m-3.2 -3.2v6.4M402.1 114.5h6.4m-3.2 -3.2v6.4M402.4 101.3h6.4m-3.2 -3.2v6.4M402.7 91.0h6.4m-3.2 -3.2v6.4M403.0 84.6h6.4m-3.2 -3.2v6.4M403.3 84.7h6.4m-3.2 -3.2v6.4M403.6 83.9h6.4m-3.2 -3.2v6.4M403.9 99.3h6.4m-3.2 -3.2v6.4M404.2 112.8h6.4m-3.2 -3.2v6.4M404.5 111.9h6.4m-3.2 -3.2v6.4M404.8 113.3h6.4m-3.2 -3.2v6.4M405.1 120.5h6.4m-3.2 -3.2v6.4M405.4 138.1h6.4m-3.2 -3.2v6.4" fill="none" stroke="#1818c4" stroke-width="0.85"/>

</g>
<g id="right-data" filter="url(#soft)">
<path d="M547.2,123.2 547.5,129.4 547.8,136.5 548.1,143.7 548.4,150.8 548.7,157.9 549.0,163.9 549.3,166.7 549.6,159.7 549.9,162.8 550.2,163.8 550.5,165.2 550.8,169.5 551.1,165.9 551.4,167.2 551.7,167.6 552.0,171.7 552.3,171.6 552.6,169.5 552.9,168.1 553.2,165.8 553.5,165.5 553.8,163.5 554.1,164.6 554.4,162.0 554.7,161.0 555.0,161.9 555.3,156.6 555.6,157.5 555.9,154.8 556.2,156.3 556.5,154.4 556.8,151.4 557.1,148.6 557.4,145.0 557.8,143.6 558.1,143.3 558.4,143.2 558.7,142.2 559.0,139.6 559.3,144.5 559.6,144.4 559.9,146.3 560.2,152.2 560.5,152.1 560.8,152.4 561.1,160.9 561.4,160.4 561.7,162.6 562.0,166.5 562.3,167.0 562.6,171.0 562.9,176.5 563.2,175.4 563.5,178.2 563.8,179.7 564.1,180.1 564.4,182.2 564.7,181.9 565.0,182.9 565.3,177.2 565.6,176.7 565.9,173.6 566.2,172.4 566.5,169.4 566.8,166.5 567.1,161.5 567.4,165.9 567.7,163.5 568.0,159.2 568.3,155.8 568.6,156.0 568.9,159.2 569.2,159.0 569.5,152.8 569.8,153.9 570.1,154.1 570.4,150.3 570.7,150.4 571.0,152.8 571.3,153.7 571.6,154.6 571.9,153.7 572.2,156.6 572.5,157.8 572.8,158.6 573.1,163.0 573.4,158.4 573.7,159.3 574.0,160.3 574.3,164.9 574.6,162.5 574.9,159.9 575.2,164.7 575.5,161.8 575.8,159.6 576.1,163.8 576.4,158.5 576.7,160.4 577.0,161.6 577.3,160.6 577.6,159.9 577.9,160.6 578.2,158.5 578.5,161.3 578.9,160.3 579.2,157.0 579.5,158.0 579.8,158.6 580.1,154.1 580.4,151.7 580.7,153.6 581.0,153.5 581.3,149.5 581.6,147.6 581.9,146.1 582.2,141.4 582.5,128.2 582.8,94.4 583.1,73.2 583.4,28.5 583.7,218.4 584.0,211.7 584.3,204.6 584.6,197.2 584.9,132.9 585.2,196.0 585.5,190.1 585.8,183.9 586.1,171.0 586.4,140.2 586.7,142.9 587.0,144.0 587.3,147.3 587.6,147.8 587.9,153.8 588.2,157.8 588.5,159.9 588.8,161.2 589.1,161.1 589.4,164.9 589.7,165.2 590.0,164.1 590.3,173.4 590.6,172.2 590.9,170.8 591.2,171.2 591.5,171.8 591.8,172.7 592.1,170.1 592.4,169.7 592.7,169.8 593.0,163.2 593.3,165.6 593.6,166.0 593.9,164.2 594.2,163.6 594.5,162.7 594.8,167.0 595.1,162.8 595.4,159.9 595.7,163.7 596.0,161.7 596.3,159.8 596.6,160.0 596.9,158.8 597.2,164.5 597.5,162.1 597.8,162.1 598.1,160.4 598.4,159.6 598.7,166.3 599.0,159.6 599.3,164.1 599.6,160.3 599.9,164.2 600.3,161.2 600.6,159.4 600.9,161.8 601.2,161.2 601.5,160.1 601.8,161.2 602.1,161.7 602.4,158.8 602.7,159.6 603.0,162.0 603.3,156.6 603.6,163.5 603.9,159.9 604.2,162.0 604.5,161.3 604.8,160.2 605.1,161.1 605.4,160.4 605.7,164.2 606.0,164.2 606.3,160.4 606.6,163.2 606.9,163.3 607.2,164.1 607.5,159.2 607.8,160.2 608.1,158.9 608.4,163.2 608.7,161.5 609.0,163.5 609.3,160.1 609.6,158.7 609.9,163.1 610.2,158.7 610.5,159.7 610.8,161.8 611.1,165.0 611.4,159.0 611.7,161.7 612.0,162.6 612.3,160.8 612.6,160.8 612.9,158.8 613.2,163.3 613.5,159.5 613.8,158.8 614.1,158.9 614.4,161.8 614.7,162.8 615.0,159.7 615.3,161.3 615.6,161.3 615.9,159.0 616.2,162.0 616.5,165.6 616.8,162.2 617.1,164.8 617.4,160.0 617.7,160.9 618.0,162.6 618.3,161.5 618.6,160.0 618.9,161.4 619.2,159.1 619.5,161.6 619.8,159.6 620.1,158.8 620.4,158.6 620.7,162.7 621.0,159.9 621.3,164.8 621.7,163.4 622.0,165.0 622.3,159.6 622.6,163.7 622.9,161.5 623.2,161.8 623.5,161.6 623.8,162.6 624.1,161.1 624.4,158.3 624.7,161.4 625.0,160.6 625.3,159.7 625.6,161.9 625.9,163.7 626.2,162.5 626.5,159.6 626.8,164.4 627.1,162.6 627.4,159.7 627.7,160.1 628.0,161.5 628.3,160.1 628.6,161.2 628.9,163.6 629.2,164.3 629.5,162.6 629.8,159.8 630.1,162.5 630.4,163.1 630.7,162.8 631.0,164.1 631.3,161.5 631.6,163.2 631.9,160.2 632.2,164.8 632.5,159.4 632.8,160.4 633.1,161.7 633.4,155.7 633.7,155.8 634.0,157.4 634.3,152.7 634.6,148.2 634.9,146.9 635.2,189.1 635.5,227.0 635.8,264.8 636.1,173.4 636.4,142.5 636.7,135.3 637.0,130.6 637.3,128.2 637.6,136.2 637.9,134.9 638.2,137.5 638.5,139.0 638.8,137.7 639.1,148.9 639.4,149.9 639.7,151.0 640.0,160.4 640.3,160.1 640.6,160.0 640.9,165.4 641.2,166.1 641.5,167.3 641.8,172.3 642.1,172.5 642.4,173.1 642.8,172.9 643.1,174.6 643.4,174.5 643.7,175.1 644.0,172.5 644.3,168.7 644.6,168.3 644.9,168.2 645.2,166.4 645.5,158.5 645.8,159.5 646.1,158.7 646.4,162.9 646.7,155.6 647.0,154.6 647.3,151.7 647.6,153.7 647.9,154.9 648.2,154.8 648.5,160.3 648.8,156.2 649.1,158.6 649.4,161.3 649.7,158.3 650.0,157.8 650.3,163.8 650.6,162.6 650.9,160.9 651.2,161.2 651.5,162.2 651.8,163.2 652.1,157.7 652.4,159.6 652.7,163.6 653.0,163.9 653.3,158.5 653.6,159.7 653.9,158.2 654.2,160.1 654.5,163.1 654.8,161.0 655.1,165.4 655.4,162.8 655.7,161.6 656.0,160.6 656.3,162.8 656.6,161.7 656.9,160.7 657.2,160.8 657.5,160.4 657.8,161.1 658.1,162.1 658.4,160.1 658.7,161.4 659.0,163.0 659.3,162.6 659.6,161.5 659.9,161.7 660.2,161.2 660.5,161.5 660.8,161.2 661.1,161.7 661.4,163.7 661.7,160.7 662.0,159.6 662.3,160.7 662.6,161.8 662.9,160.7 663.2,163.2 663.5,164.9 663.8,161.4 664.2,163.2 664.5,160.2 664.8,163.4 665.1,166.2 665.4,163.4 665.7,158.7 666.0,162.2 666.3,163.9 666.6,162.9 666.9,160.6 667.2,160.6 667.5,161.2 667.8,158.9 668.1,160.2 668.4,161.5 668.7,160.4 669.0,158.5 669.3,159.8 669.6,159.7 669.9,163.4 670.2,161.8 670.5,160.2 670.8,162.0 671.1,159.6 671.4,160.4 671.7,159.9 672.0,161.9 672.3,157.0 672.6,159.3 672.9,161.9 673.2,161.3 673.5,156.9 673.8,162.1 674.1,159.9 674.4,159.7 674.7,161.5 675.0,163.6 675.3,161.2 675.6,160.9 675.9,159.5 676.2,160.1 676.5,161.5 676.8,160.0 677.1,160.5 677.4,161.1 677.7,161.4 678.0,161.9 678.3,160.3 678.6,163.4 678.9,162.6 679.2,161.5 679.5,164.1 679.8,162.3 680.1,165.1 680.4,162.7 680.7,160.5 681.0,160.5 681.3,161.6 681.6,161.9 681.9,164.0 682.2,158.2 682.5,160.5 682.8,159.4 683.1,162.7 683.4,161.2 683.7,163.6 684.0,158.2 684.3,156.9 684.6,160.5 684.9,155.4 685.3,152.2 685.6,154.5 685.9,152.7 686.2,150.0 686.5,148.4 686.8,149.8 687.1,148.1 687.4,149.1 687.7,150.3 688.0,142.5 688.3,132.9 688.6,123.4 688.9,115.1 689.2,106.0 689.5,182.0 689.8,225.5 690.1,242.2 690.4,175.8 690.7,159.8 691.0,162.9 691.3,161.2 691.6,157.6 691.9,156.4 692.2,155.5 692.5,154.6 692.8,156.4 693.1,155.3 693.4,157.9 693.7,160.9 694.0,164.2 694.3,165.4 694.6,171.8 694.9,170.2 695.2,169.4 695.5,172.5 695.8,169.1 696.1,168.3 696.4,169.8 696.7,166.3 697.0,165.1 697.3,162.6 697.6,161.6 697.9,162.2 698.2,163.3 698.5,161.9 698.8,161.7 699.1,160.2 699.4,161.0 699.7,162.8 700.0,163.9 700.3,162.2 700.6,162.8 700.9,163.5 701.2,161.7 701.5,162.4 701.8,161.3 702.1,160.6 702.4,162.2 702.7,157.4 703.0,162.1 703.3,159.5 703.6,161.3 703.9,159.5 704.2,165.7 704.5,162.8 704.8,161.1 705.1,160.4 705.4,157.3 705.7,160.9 706.0,159.2 706.3,160.1 706.7,159.8 707.0,160.6 707.3,161.8 707.6,160.6 707.9,163.4 708.2,159.4 708.5,163.3 708.8,161.1 709.1,157.7 709.4,161.9 709.7,161.5 710.0,159.4 710.3,161.5 710.6,162.9 710.9,161.0 711.2,160.5 711.5,160.2 711.8,162.9 712.1,158.4 712.4,158.5 712.7,161.5 713.0,161.0 713.3,162.3 713.6,159.0 713.9,162.8 714.2,160.3 714.5,162.4 714.8,162.7 715.1,160.2 715.4,159.1 715.7,161.5 716.0,162.7 716.3,160.1 716.6,161.6 716.9,160.9 717.2,158.8 717.5,159.5 717.8,162.4 718.1,157.4 718.4,161.5 718.7,160.1 719.0,162.7 719.3,161.6 719.6,164.6 719.9,158.3 720.2,159.1 720.5,163.7 720.8,164.2 721.1,164.4 721.4,159.4 721.7,162.3 722.0,161.6 722.3,162.0 722.6,161.7 722.9,163.4 723.2,161.3 723.5,163.8 723.8,161.1 724.1,160.1 724.4,159.3 724.7,159.8 725.0,160.0 725.3,156.8 725.6,156.4 725.9,150.9 726.2,150.5 726.5,150.3 726.8,149.5 727.1,148.9 727.4,148.9 727.8,148.1 728.1,132.9 728.4,109.1 728.7,90.8 729.0,182.0 729.3,196.0 729.6,200.5 729.9,220.0 730.2,240.5 730.5,175.8 730.8,160.3 731.1,160.7 731.4,160.7 731.7,162.3 732.0,137.7 732.3,123.4 732.6,113.9 732.9,106.0 733.2,132.9 733.5,154.4 733.8,173.1 734.1,174.5 734.4,172.2 734.7,174.4 735.0,171.2 735.3,169.5 735.6,168.5 735.9,166.2 736.2,165.6 736.5,166.5 736.8,163.1 737.1,161.5 737.4,162.9 737.7,161.9 738.0,160.3 738.3,163.1 738.6,160.4 738.9,158.2 739.2,162.5 739.5,161.2 739.8,161.8 740.1,158.8 740.4,160.9 740.7,159.9 741.0,162.7 741.3,161.5 741.6,161.5 741.9,164.7 742.2,158.9 742.5,159.9 742.8,164.6 743.1,160.2 743.4,161.7 743.7,160.7 744.0,160.8 744.3,164.2 744.6,161.9 744.9,158.8 745.2,162.5 745.5,163.3 745.8,163.9 746.1,163.7 746.4,160.9 746.7,158.5 747.0,160.7 747.3,161.1 747.6,157.5 747.9,162.4 748.2,162.7 748.5,160.6 748.8,160.5 749.2,163.3 749.5,163.6 749.8,161.0 750.1,161.1 750.4,163.8 750.7,161.9 751.0,162.5 751.3,160.7 751.6,161.7 751.9,161.7 752.2,162.1 752.5,159.6 752.8,159.0 753.1,162.2 753.4,160.0 753.7,162.9 754.0,161.4 754.3,160.2 754.6,158.8 754.9,162.2 755.2,161.6 755.5,161.1 755.8,164.2 756.1,161.5 756.4,162.7 756.7,160.8 757.0,163.5 757.3,165.0 757.6,161.4 757.9,161.0 758.2,162.5 758.5,159.9 758.8,162.0 759.1,162.6 759.4,160.6 759.7,164.3 760.0,162.7 760.3,161.5 760.6,160.0 760.9,161.8 761.2,160.9 761.5,162.7 761.8,161.0 762.1,158.5 762.4,162.7 762.7,157.3 763.0,162.6 763.3,161.5 763.6,161.2 763.9,159.7 764.2,163.7 764.5,165.2 764.8,160.4 765.1,160.1 765.4,160.4 765.7,156.8 766.0,161.1 766.3,161.0 766.6,159.8 766.9,160.8 767.2,158.5 767.5,163.7 767.8,162.2 768.1,167.6 768.4,160.0 768.7,162.2 769.0,159.9 769.3,157.7 769.6,161.5 769.9,162.0 770.2,162.4 770.6,163.0 770.9,162.6 771.2,160.4 771.5,161.4 771.8,161.4 772.1,161.8 772.4,159.9 772.7,160.6 773.0,161.8 773.3,160.3 773.6,161.8 773.9,163.5 774.2,158.9 774.5,160.6 774.8,163.1 775.1,159.4 775.4,160.7 775.7,163.9 776.0,158.0 776.3,159.8 776.6,158.2 776.9,158.6 777.2,158.1 777.5,159.1 777.8,152.9 778.1,152.5 778.4,150.9 778.7,147.5 779.0,145.9 779.3,143.1 779.6,143.8 779.9,142.6 780.2,146.4 780.5,128.2 780.8,113.9 781.1,95.8 781.4,83.7 781.7,137.7 782.0,182.9 782.3,205.8 782.6,227.4 782.9,253.8 783.2,149.6 783.5,95.8 783.8,80.6 784.1,113.9 784.4,183.9 784.7,175.8 785.0,159.3 785.3,157.0 785.6,162.4 785.9,161.9 786.2,159.4 786.5,161.3 786.8,157.2 787.1,155.3 787.4,154.8 787.7,151.4 788.0,153.5 788.3,148.4 788.6,152.5 788.9,151.8 789.2,153.2 789.5,154.9 789.8,154.6 790.1,157.8 790.4,160.0 790.7,159.3 791.0,158.0 791.3,161.2 791.7,160.9 792.0,159.6 792.3,161.7 792.6,165.1 792.9,159.3 793.2,161.0 793.5,169.8 793.8,167.6 794.1,167.7 794.4,167.2 794.7,167.5 795.0,170.4 795.3,171.0 795.6,159.9 795.9,163.2 796.2,163.4 796.5,155.4 796.8,155.6 797.1,160.9 797.4,160.2 797.7,156.9 798.0,151.1 798.3,155.9 798.6,153.9 798.9,156.4 799.2,154.3 799.5,157.5 799.8,154.2 800.1,150.2 800.4,157.9 800.7,152.9 801.0,156.6 801.3,158.7 801.6,161.8 801.9,150.9 802.2,152.2 802.5,155.6 802.8,155.9 803.1,165.5 803.4,151.8 803.7,158.8 804.0,162.7 804.3,162.6 804.6,158.0 804.9,166.9 805.2,158.8 805.5,158.8 805.8,159.8 806.1,159.3 806.4,161.4 806.7,157.1 807.0,161.7 807.3,167.6 807.6,160.6 807.9,165.2 808.2,164.7 808.5,159.4 808.8,159.8 809.1,165.4 809.4,163.9 809.7,158.5 810.0,159.0 810.3,160.3 810.6,160.3 810.9,160.9 811.2,161.7 811.5,156.8 811.8,162.5 812.1,169.9 812.4,160.0 812.7,164.1 813.1,160.0 813.4,164.4 813.7,161.5 814.0,153.7 814.3,164.1 814.6,167.1 814.9,165.1 815.2,168.6 815.5,169.1 815.8,159.0 816.1,164.0 816.4,167.9 816.7,164.6 817.0,157.2 817.3,165.1 817.6,161.7 817.9,161.8 818.2,152.8 818.5,155.7 818.8,155.1 819.1,160.5 819.4,156.9 819.7,148.3 820.0,160.9 820.3,155.4 820.6,151.7 820.9,150.5 821.2,149.3 821.5,142.2 821.8,144.2 822.1,146.0 822.4,132.9 822.7,113.9 823.0,89.6 823.3,63.4 823.6,128.2 823.9,187.7 824.2,202.7 824.5,230.5 824.8,237.7 825.1,171.0 825.4,147.9 825.7,149.5 826.0,145.5 826.3,145.6 826.6,145.7 826.9,152.2 827.2,151.0 827.5,151.9 827.8,155.7 828.1,159.3 828.4,169.1 828.7,167.9 829.0,170.0 829.3,168.0 829.6,174.7 829.9,172.8 830.2,170.4 830.5,166.8 830.8,167.1 831.1,162.5 831.4,164.7 831.7,161.9 832.0,162.9 832.3,161.4 832.6,162.8 832.9,164.4 833.2,159.6 833.5,161.0 833.8,162.5 834.2,161.1 834.5,159.7 834.8,163.2 835.1,159.3 835.4,161.1 835.7,159.8 836.0,161.6 836.3,165.2 836.6,160.1 836.9,163.1 837.2,162.4 837.5,164.6 837.8,159.0 838.1,161.4 838.4,165.3 838.7,160.5 839.0,161.1 839.3,165.8 839.6,160.5 839.9,159.0 840.2,160.4 840.5,162.4 840.8,162.4 841.1,160.2 841.4,158.7 841.7,160.9 842.0,161.0 842.3,163.9 842.6,163.3 842.9,166.9 843.2,163.5 843.5,162.2 843.8,161.7 844.1,160.9 844.4,160.1 844.7,161.3 845.0,160.6 845.3,158.9 845.6,160.7 845.9,161.4 846.2,162.5 846.5,159.5 846.8,162.8 847.1,163.5 847.4,160.2 847.7,162.0 848.0,161.9 848.3,163.4 848.6,158.9 848.9,161.5 849.2,160.4 849.5,165.0 849.8,163.4 850.1,162.6 850.4,160.9 850.7,157.0 851.0,165.5 851.3,161.8 851.6,160.1 851.9,163.0 852.2,159.4 852.5,165.5 852.8,159.6 853.1,165.4 853.4,159.5 853.7,162.5 854.0,163.3 854.3,162.2 854.6,160.3 854.9,160.6 855.2,167.3 855.6,159.0 855.9,161.4 856.2,156.2 856.5,163.3 856.8,160.4 857.1,161.0 857.4,163.1 857.7,157.5 858.0,156.4 858.3,160.6 858.6,163.5 858.9,160.9 859.2,161.5 859.5,160.9 859.8,161.2 860.1,164.0 860.4,161.8 860.7,159.4 861.0,163.6 861.3,164.4 861.6,163.5 861.9,156.7 862.2,156.8 862.5,161.1 862.8,163.9 863.1,163.6 863.4,160.5 863.7,159.0 864.0,159.8 864.3,166.1 864.6,159.7 864.9,162.4 865.2,163.4 865.5,162.2 865.8,160.6 866.1,158.8 866.4,159.6 866.7,165.5 867.0,166.8 867.3,161.5 867.6,159.5 867.9,158.9 868.2,160.7 868.5,155.7 868.8,155.7 869.1,156.9 869.4,157.7 869.7,158.1 870.0,153.0 870.3,153.4 870.6,154.9 870.9,152.0 871.2,151.6 871.5,150.3 871.8,150.6 872.1,151.1 872.4,151.8 872.7,153.1 873.0,151.8 873.3,156.0 873.6,156.4 873.9,142.5 874.2,118.7 874.5,93.2 874.8,78.9 875.1,113.9 875.4,186.0 875.7,198.2 876.0,215.3 876.3,185.3 876.6,187.7 877.0,184.1 877.3,186.5 877.6,185.3 877.9,182.9" fill="none" stroke="#4040ff" stroke-width="0.8" stroke-linejoin="round"/>
<path d="M582.5,128.2L582.8,94.4" fill="none" stroke="#20208a" stroke-width="1.6" stroke-opacity="0.4"/>
<path d="M583.1,73.2L583.4,28.5" fill="none" stroke="#20208a" stroke-width="1.6" stroke-opacity="0.4"/>
<path d="M583.4,28.5L583.7,218.4" fill="none" stroke="#20208a" stroke-width="1.6" stroke-opacity="0.4"/>
<path d="M584.6,197.2L584.9,132.9" fill="none" stroke="#20208a" stroke-width="1.6" stroke-opacity="0.4"/>
<path d="M584.9,132.9L585.2,196.0" fill="none" stroke="#20208a" stroke-width="1.6" stroke-opacity="0.4"/>
<path d="M586.1,171.0L586.4,140.2" fill="none" stroke="#20208a" stroke-width="1.6" stroke-opacity="0.4"/>
<path d="M634.9,146.9L635.2,189.1" fill="none" stroke="#20208a" stroke-width="1.6" stroke-opacity="0.4"/>
<path d="M635.2,189.1L635.5,227.0" fill="none" stroke="#20208a" stroke-width="1.6" stroke-opacity="0.4"/>
<path d="M635.5,227.0L635.8,264.8" fill="none" stroke="#20208a" stroke-width="1.6" stroke-opacity="0.4"/>
<path d="M635.8,264.8L636.1,173.4" fill="none" stroke="#20208a" stroke-width="1.6" stroke-opacity="0.4"/>
<path d="M636.1,173.4L636.4,142.5" fill="none" stroke="#20208a" stroke-width="1.6" stroke-opacity="0.4"/>
<path d="M689.2,106.0L689.5,182.0" fill="none" stroke="#20208a" stroke-width="1.6" stroke-opacity="0.4"/>
<path d="M689.5,182.0L689.8,225.5" fill="none" stroke="#20208a" stroke-width="1.6" stroke-opacity="0.4"/>
<path d="M690.1,242.2L690.4,175.8" fill="none" stroke="#20208a" stroke-width="1.6" stroke-opacity="0.4"/>
<path d="M728.1,132.9L728.4,109.1" fill="none" stroke="#20208a" stroke-width="1.6" stroke-opacity="0.4"/>
<path d="M728.7,90.8L729.0,182.0" fill="none" stroke="#20208a" stroke-width="1.6" stroke-opacity="0.4"/>
<path d="M730.2,240.5L730.5,175.8" fill="none" stroke="#20208a" stroke-width="1.6" stroke-opacity="0.4"/>
<path d="M731.7,162.3L732.0,137.7" fill="none" stroke="#20208a" stroke-width="1.6" stroke-opacity="0.4"/>
<path d="M732.9,106.0L733.2,132.9" fill="none" stroke="#20208a" stroke-width="1.6" stroke-opacity="0.4"/>
<path d="M781.4,83.7L781.7,137.7" fill="none" stroke="#20208a" stroke-width="1.6" stroke-opacity="0.4"/>
<path d="M781.7,137.7L782.0,182.9" fill="none" stroke="#20208a" stroke-width="1.6" stroke-opacity="0.4"/>
<path d="M782.0,182.9L782.3,205.8" fill="none" stroke="#20208a" stroke-width="1.6" stroke-opacity="0.4"/>
<path d="M782.6,227.4L782.9,253.8" fill="none" stroke="#20208a" stroke-width="1.6" stroke-opacity="0.4"/>
<path d="M782.9,253.8L783.2,149.6" fill="none" stroke="#20208a" stroke-width="1.6" stroke-opacity="0.4"/>
<path d="M783.2,149.6L783.5,95.8" fill="none" stroke="#20208a" stroke-width="1.6" stroke-opacity="0.4"/>
<path d="M783.8,80.6L784.1,113.9" fill="none" stroke="#20208a" stroke-width="1.6" stroke-opacity="0.4"/>
<path d="M784.1,113.9L784.4,183.9" fill="none" stroke="#20208a" stroke-width="1.6" stroke-opacity="0.4"/>
<path d="M822.7,113.9L823.0,89.6" fill="none" stroke="#20208a" stroke-width="1.6" stroke-opacity="0.4"/>
<path d="M823.0,89.6L823.3,63.4" fill="none" stroke="#20208a" stroke-width="1.6" stroke-opacity="0.4"/>
<path d="M823.3,63.4L823.6,128.2" fill="none" stroke="#20208a" stroke-width="1.6" stroke-opacity="0.4"/>
<path d="M823.6,128.2L823.9,187.7" fill="none" stroke="#20208a" stroke-width="1.6" stroke-opacity="0.4"/>
<path d="M824.2,202.7L824.5,230.5" fill="none" stroke="#20208a" stroke-width="1.6" stroke-opacity="0.4"/>
<path d="M824.8,237.7L825.1,171.0" fill="none" stroke="#20208a" stroke-width="1.6" stroke-opacity="0.4"/>
<path d="M825.1,171.0L825.4,147.9" fill="none" stroke="#20208a" stroke-width="1.6" stroke-opacity="0.4"/>
<path d="M873.9,142.5L874.2,118.7" fill="none" stroke="#20208a" stroke-width="1.6" stroke-opacity="0.4"/>
<path d="M874.2,118.7L874.5,93.2" fill="none" stroke="#20208a" stroke-width="1.6" stroke-opacity="0.4"/>
<path d="M874.8,78.9L875.1,113.9" fill="none" stroke="#20208a" stroke-width="1.6" stroke-opacity="0.4"/>
<path d="M875.1,113.9L875.4,186.0" fill="none" stroke="#20208a" stroke-width="1.6" stroke-opacity="0.4"/>
<path d="M876.0,215.3L876.3,185.3" fill="none" stroke="#20208a" stroke-width="1.6" stroke-opacity="0.4"/>
<path d="M544.0 123.2h6.4m-3.2 -3.2v6.4M544.3 129.4h6.4m-3.2 -3.2v6.4M544.6 136.5h6.4m-3.2 -3.2v6.4M544.9 143.7h6.4m-3.2 -3.2v6.4M545.2 150.8h6.4m-3.2 -3.2v6.4M545.5 157.9h6.4m-3.2 -3.2v6.4M545.8 163.9h6.4m-3.2 -3.2v6.4M546.1 166.7h6.4m-3.2 -3.2v6.4M546.4 159.7h6.4m-3.2 -3.2v6.4M546.7 162.8h6.4m-3.2 -3.2v6.4M547.0 163.8h6.4m-3.2 -3.2v6.4M547.3 165.2h6.4m-3.2 -3.2v6.4M547.6 169.5h6.4m-3.2 -3.2v6.4M547.9 165.9h6.4m-3.2 -3.2v6.4M548.2 167.2h6.4m-3.2 -3.2v6.4M548.5 167.6h6.4m-3.2 -3.2v6.4M548.8 171.7h6.4m-3.2 -3.2v6.4M549.1 171.6h6.4m-3.2 -3.2v6.4M549.4 169.5h6.4m-3.2 -3.2v6.4M549.7 168.1h6.4m-3.2 -3.2v6.4M550.0 165.8h6.4m-3.2 -3.2v6.4M550.3 165.5h6.4m-3.2 -3.2v6.4M550.6 163.5h6.4m-3.2 -3.2v6.4M550.9 164.6h6.4m-3.2 -3.2v6.4M551.2 162.0h6.4m-3.2 -3.2v6.4M551.5 161.0h6.4m-3.2 -3.2v6.4M551.8 161.9h6.4m-3.2 -3.2v6.4M552.1 156.6h6.4m-3.2 -3.2v6.4M552.4 157.5h6.4m-3.2 -3.2v6.4M552.7 154.8h6.4m-3.2 -3.2v6.4M553.0 156.3h6.4m-3.2 -3.2v6.4M553.3 154.4h6.4m-3.2 -3.2v6.4M553.6 151.4h6.4m-3.2 -3.2v6.4M553.9 148.6h6.4m-3.2 -3.2v6.4M554.2 145.0h6.4m-3.2 -3.2v6.4M554.6 143.6h6.4m-3.2 -3.2v6.4M554.9 143.3h6.4m-3.2 -3.2v6.4M555.2 143.2h6.4m-3.2 -3.2v6.4M555.5 142.2h6.4m-3.2 -3.2v6.4M555.8 139.6h6.4m-3.2 -3.2v6.4M556.1 144.5h6.4m-3.2 -3.2v6.4M556.4 144.4h6.4m-3.2 -3.2v6.4M556.7 146.3h6.4m-3.2 -3.2v6.4M557.0 152.2h6.4m-3.2 -3.2v6.4M557.3 152.1h6.4m-3.2 -3.2v6.4M557.6 152.4h6.4m-3.2 -3.2v6.4M557.9 160.9h6.4m-3.2 -3.2v6.4M558.2 160.4h6.4m-3.2 -3.2v6.4M558.5 162.6h6.4m-3.2 -3.2v6.4M558.8 166.5h6.4m-3.2 -3.2v6.4M559.1 167.0h6.4m-3.2 -3.2v6.4M559.4 171.0h6.4m-3.2 -3.2v6.4M559.7 176.5h6.4m-3.2 -3.2v6.4M560.0 175.4h6.4m-3.2 -3.2v6.4M560.3 178.2h6.4m-3.2 -3.2v6.4M560.6 179.7h6.4m-3.2 -3.2v6.4M560.9 180.1h6.4m-3.2 -3.2v6.4M561.2 182.2h6.4m-3.2 -3.2v6.4M561.5 181.9h6.4m-3.2 -3.2v6.4M561.8 182.9h6.4m-3.2 -3.2v6.4M562.1 177.2h6.4m-3.2 -3.2v6.4M562.4 176.7h6.4m-3.2 -3.2v6.4M562.7 173.6h6.4m-3.2 -3.2v6.4M563.0 172.4h6.4m-3.2 -3.2v6.4M563.3 169.4h6.4m-3.2 -3.2v6.4M563.6 166.5h6.4m-3.2 -3.2v6.4M563.9 161.5h6.4m-3.2 -3.2v6.4M564.2 165.9h6.4m-3.2 -3.2v6.4M564.5 163.5h6.4m-3.2 -3.2v6.4M564.8 159.2h6.4m-3.2 -3.2v6.4M565.1 155.8h6.4m-3.2 -3.2v6.4M565.4 156.0h6.4m-3.2 -3.2v6.4M565.7 159.2h6.4m-3.2 -3.2v6.4M566.0 159.0h6.4m-3.2 -3.2v6.4M566.3 152.8h6.4m-3.2 -3.2v6.4M566.6 153.9h6.4m-3.2 -3.2v6.4M566.9 154.1h6.4m-3.2 -3.2v6.4M567.2 150.3h6.4m-3.2 -3.2v6.4M567.5 150.4h6.4m-3.2 -3.2v6.4M567.8 152.8h6.4m-3.2 -3.2v6.4M568.1 153.7h6.4m-3.2 -3.2v6.4M568.4 154.6h6.4m-3.2 -3.2v6.4M568.7 153.7h6.4m-3.2 -3.2v6.4M569.0 156.6h6.4m-3.2 -3.2v6.4M569.3 157.8h6.4m-3.2 -3.2v6.4M569.6 158.6h6.4m-3.2 -3.2v6.4M569.9 163.0h6.4m-3.2 -3.2v6.4M570.2 158.4h6.4m-3.2 -3.2v6.4M570.5 159.3h6.4m-3.2 -3.2v6.4M570.8 160.3h6.4m-3.2 -3.2v6.4M571.1 164.9h6.4m-3.2 -3.2v6.4M571.4 162.5h6.4m-3.2 -3.2v6.4M571.7 159.9h6.4m-3.2 -3.2v6.4M572.0 164.7h6.4m-3.2 -3.2v6.4M572.3 161.8h6.4m-3.2 -3.2v6.4M572.6 159.6h6.4m-3.2 -3.2v6.4M572.9 163.8h6.4m-3.2 -3.2v6.4M573.2 158.5h6.4m-3.2 -3.2v6.4M573.5 160.4h6.4m-3.2 -3.2v6.4M573.8 161.6h6.4m-3.2 -3.2v6.4M574.1 160.6h6.4m-3.2 -3.2v6.4M574.4 159.9h6.4m-3.2 -3.2v6.4M574.7 160.6h6.4m-3.2 -3.2v6.4M575.0 158.5h6.4m-3.2 -3.2v6.4M575.3 161.3h6.4m-3.2 -3.2v6.4M575.7 160.3h6.4m-3.2 -3.2v6.4M576.0 157.0h6.4m-3.2 -3.2v6.4M576.3 158.0h6.4m-3.2 -3.2v6.4M576.6 158.6h6.4m-3.2 -3.2v6.4M576.9 154.1h6.4m-3.2 -3.2v6.4M577.2 151.7h6.4m-3.2 -3.2v6.4M577.5 153.6h6.4m-3.2 -3.2v6.4M577.8 153.5h6.4m-3.2 -3.2v6.4M578.1 149.5h6.4m-3.2 -3.2v6.4M578.4 147.6h6.4m-3.2 -3.2v6.4M578.7 146.1h6.4m-3.2 -3.2v6.4M579.0 141.4h6.4m-3.2 -3.2v6.4M579.3 128.2h6.4m-3.2 -3.2v6.4M579.6 94.4h6.4m-3.2 -3.2v6.4M579.9 73.2h6.4m-3.2 -3.2v6.4M580.2 28.5h6.4m-3.2 -3.2v6.4M580.5 218.4h6.4m-3.2 -3.2v6.4M580.8 211.7h6.4m-3.2 -3.2v6.4M581.1 204.6h6.4m-3.2 -3.2v6.4M581.4 197.2h6.4m-3.2 -3.2v6.4M581.7 132.9h6.4m-3.2 -3.2v6.4M582.0 196.0h6.4m-3.2 -3.2v6.4M582.3 190.1h6.4m-3.2 -3.2v6.4M582.6 183.9h6.4m-3.2 -3.2v6.4M582.9 171.0h6.4m-3.2 -3.2v6.4M583.2 140.2h6.4m-3.2 -3.2v6.4M583.5 142.9h6.4m-3.2 -3.2v6.4M583.8 144.0h6.4m-3.2 -3.2v6.4M584.1 147.3h6.4m-3.2 -3.2v6.4M584.4 147.8h6.4m-3.2 -3.2v6.4M584.7 153.8h6.4m-3.2 -3.2v6.4M585.0 157.8h6.4m-3.2 -3.2v6.4M585.3 159.9h6.4m-3.2 -3.2v6.4M585.6 161.2h6.4m-3.2 -3.2v6.4M585.9 161.1h6.4m-3.2 -3.2v6.4M586.2 164.9h6.4m-3.2 -3.2v6.4M586.5 165.2h6.4m-3.2 -3.2v6.4M586.8 164.1h6.4m-3.2 -3.2v6.4M587.1 173.4h6.4m-3.2 -3.2v6.4M587.4 172.2h6.4m-3.2 -3.2v6.4M587.7 170.8h6.4m-3.2 -3.2v6.4M588.0 171.2h6.4m-3.2 -3.2v6.4M588.3 171.8h6.4m-3.2 -3.2v6.4M588.6 172.7h6.4m-3.2 -3.2v6.4M588.9 170.1h6.4m-3.2 -3.2v6.4M589.2 169.7h6.4m-3.2 -3.2v6.4M589.5 169.8h6.4m-3.2 -3.2v6.4M589.8 163.2h6.4m-3.2 -3.2v6.4M590.1 165.6h6.4m-3.2 -3.2v6.4M590.4 166.0h6.4m-3.2 -3.2v6.4M590.7 164.2h6.4m-3.2 -3.2v6.4M591.0 163.6h6.4m-3.2 -3.2v6.4M591.3 162.7h6.4m-3.2 -3.2v6.4M591.6 167.0h6.4m-3.2 -3.2v6.4M591.9 162.8h6.4m-3.2 -3.2v6.4M592.2 159.9h6.4m-3.2 -3.2v6.4M592.5 163.7h6.4m-3.2 -3.2v6.4M592.8 161.7h6.4m-3.2 -3.2v6.4M593.1 159.8h6.4m-3.2 -3.2v6.4M593.4 160.0h6.4m-3.2 -3.2v6.4M593.7 158.8h6.4m-3.2 -3.2v6.4M594.0 164.5h6.4m-3.2 -3.2v6.4M594.3 162.1h6.4m-3.2 -3.2v6.4M594.6 162.1h6.4m-3.2 -3.2v6.4M594.9 160.4h6.4m-3.2 -3.2v6.4M595.2 159.6h6.4m-3.2 -3.2v6.4M595.5 166.3h6.4m-3.2 -3.2v6.4M595.8 159.6h6.4m-3.2 -3.2v6.4M596.1 164.1h6.4m-3.2 -3.2v6.4M596.4 160.3h6.4m-3.2 -3.2v6.4M596.7 164.2h6.4m-3.2 -3.2v6.4M597.1 161.2h6.4m-3.2 -3.2v6.4M597.4 159.4h6.4m-3.2 -3.2v6.4M597.7 161.8h6.4m-3.2 -3.2v6.4M598.0 161.2h6.4m-3.2 -3.2v6.4M598.3 160.1h6.4m-3.2 -3.2v6.4M598.6 161.2h6.4m-3.2 -3.2v6.4M598.9 161.7h6.4m-3.2 -3.2v6.4M599.2 158.8h6.4m-3.2 -3.2v6.4M599.5 159.6h6.4m-3.2 -3.2v6.4M599.8 162.0h6.4m-3.2 -3.2v6.4M600.1 156.6h6.4m-3.2 -3.2v6.4M600.4 163.5h6.4m-3.2 -3.2v6.4M600.7 159.9h6.4m-3.2 -3.2v6.4M601.0 162.0h6.4m-3.2 -3.2v6.4M601.3 161.3h6.4m-3.2 -3.2v6.4M601.6 160.2h6.4m-3.2 -3.2v6.4M601.9 161.1h6.4m-3.2 -3.2v6.4M602.2 160.4h6.4m-3.2 -3.2v6.4M602.5 164.2h6.4m-3.2 -3.2v6.4M602.8 164.2h6.4m-3.2 -3.2v6.4M603.1 160.4h6.4m-3.2 -3.2v6.4M603.4 163.2h6.4m-3.2 -3.2v6.4M603.7 163.3h6.4m-3.2 -3.2v6.4M604.0 164.1h6.4m-3.2 -3.2v6.4M604.3 159.2h6.4m-3.2 -3.2v6.4M604.6 160.2h6.4m-3.2 -3.2v6.4M604.9 158.9h6.4m-3.2 -3.2v6.4M605.2 163.2h6.4m-3.2 -3.2v6.4M605.5 161.5h6.4m-3.2 -3.2v6.4M605.8 163.5h6.4m-3.2 -3.2v6.4M606.1 160.1h6.4m-3.2 -3.2v6.4M606.4 158.7h6.4m-3.2 -3.2v6.4M606.7 163.1h6.4m-3.2 -3.2v6.4M607.0 158.7h6.4m-3.2 -3.2v6.4M607.3 159.7h6.4m-3.2 -3.2v6.4M607.6 161.8h6.4m-3.2 -3.2v6.4M607.9 165.0h6.4m-3.2 -3.2v6.4M608.2 159.0h6.4m-3.2 -3.2v6.4M608.5 161.7h6.4m-3.2 -3.2v6.4M608.8 162.6h6.4m-3.2 -3.2v6.4M609.1 160.8h6.4m-3.2 -3.2v6.4M609.4 160.8h6.4m-3.2 -3.2v6.4M609.7 158.8h6.4m-3.2 -3.2v6.4M610.0 163.3h6.4m-3.2 -3.2v6.4M610.3 159.5h6.4m-3.2 -3.2v6.4M610.6 158.8h6.4m-3.2 -3.2v6.4M610.9 158.9h6.4m-3.2 -3.2v6.4M611.2 161.8h6.4m-3.2 -3.2v6.4M611.5 162.8h6.4m-3.2 -3.2v6.4M611.8 159.7h6.4m-3.2 -3.2v6.4M612.1 161.3h6.4m-3.2 -3.2v6.4M612.4 161.3h6.4m-3.2 -3.2v6.4M612.7 159.0h6.4m-3.2 -3.2v6.4M613.0 162.0h6.4m-3.2 -3.2v6.4M613.3 165.6h6.4m-3.2 -3.2v6.4M613.6 162.2h6.4m-3.2 -3.2v6.4M613.9 164.8h6.4m-3.2 -3.2v6.4M614.2 160.0h6.4m-3.2 -3.2v6.4M614.5 160.9h6.4m-3.2 -3.2v6.4M614.8 162.6h6.4m-3.2 -3.2v6.4M615.1 161.5h6.4m-3.2 -3.2v6.4M615.4 160.0h6.4m-3.2 -3.2v6.4M615.7 161.4h6.4m-3.2 -3.2v6.4M616.0 159.1h6.4m-3.2 -3.2v6.4M616.3 161.6h6.4m-3.2 -3.2v6.4M616.6 159.6h6.4m-3.2 -3.2v6.4M616.9 158.8h6.4m-3.2 -3.2v6.4M617.2 158.6h6.4m-3.2 -3.2v6.4M617.5 162.7h6.4m-3.2 -3.2v6.4M617.8 159.9h6.4m-3.2 -3.2v6.4M618.1 164.8h6.4m-3.2 -3.2v6.4M618.5 163.4h6.4m-3.2 -3.2v6.4M618.8 165.0h6.4m-3.2 -3.2v6.4M619.1 159.6h6.4m-3.2 -3.2v6.4M619.4 163.7h6.4m-3.2 -3.2v6.4M619.7 161.5h6.4m-3.2 -3.2v6.4M620.0 161.8h6.4m-3.2 -3.2v6.4M620.3 161.6h6.4m-3.2 -3.2v6.4M620.6 162.6h6.4m-3.2 -3.2v6.4M620.9 161.1h6.4m-3.2 -3.2v6.4M621.2 158.3h6.4m-3.2 -3.2v6.4M621.5 161.4h6.4m-3.2 -3.2v6.4M621.8 160.6h6.4m-3.2 -3.2v6.4M622.1 159.7h6.4m-3.2 -3.2v6.4M622.4 161.9h6.4m-3.2 -3.2v6.4M622.7 163.7h6.4m-3.2 -3.2v6.4M623.0 162.5h6.4m-3.2 -3.2v6.4M623.3 159.6h6.4m-3.2 -3.2v6.4M623.6 164.4h6.4m-3.2 -3.2v6.4M623.9 162.6h6.4m-3.2 -3.2v6.4M624.2 159.7h6.4m-3.2 -3.2v6.4M624.5 160.1h6.4m-3.2 -3.2v6.4M624.8 161.5h6.4m-3.2 -3.2v6.4M625.1 160.1h6.4m-3.2 -3.2v6.4M625.4 161.2h6.4m-3.2 -3.2v6.4M625.7 163.6h6.4m-3.2 -3.2v6.4M626.0 164.3h6.4m-3.2 -3.2v6.4M626.3 162.6h6.4m-3.2 -3.2v6.4M626.6 159.8h6.4m-3.2 -3.2v6.4M626.9 162.5h6.4m-3.2 -3.2v6.4M627.2 163.1h6.4m-3.2 -3.2v6.4M627.5 162.8h6.4m-3.2 -3.2v6.4M627.8 164.1h6.4m-3.2 -3.2v6.4M628.1 161.5h6.4m-3.2 -3.2v6.4M628.4 163.2h6.4m-3.2 -3.2v6.4M628.7 160.2h6.4m-3.2 -3.2v6.4M629.0 164.8h6.4m-3.2 -3.2v6.4M629.3 159.4h6.4m-3.2 -3.2v6.4M629.6 160.4h6.4m-3.2 -3.2v6.4M629.9 161.7h6.4m-3.2 -3.2v6.4M630.2 155.7h6.4m-3.2 -3.2v6.4M630.5 155.8h6.4m-3.2 -3.2v6.4M630.8 157.4h6.4m-3.2 -3.2v6.4M631.1 152.7h6.4m-3.2 -3.2v6.4M631.4 148.2h6.4m-3.2 -3.2v6.4M631.7 146.9h6.4m-3.2 -3.2v6.4M632.0 189.1h6.4m-3.2 -3.2v6.4M632.3 227.0h6.4m-3.2 -3.2v6.4M632.6 264.8h6.4m-3.2 -3.2v6.4M632.9 173.4h6.4m-3.2 -3.2v6.4M633.2 142.5h6.4m-3.2 -3.2v6.4M633.5 135.3h6.4m-3.2 -3.2v6.4M633.8 130.6h6.4m-3.2 -3.2v6.4M634.1 128.2h6.4m-3.2 -3.2v6.4M634.4 136.2h6.4m-3.2 -3.2v6.4M634.7 134.9h6.4m-3.2 -3.2v6.4M635.0 137.5h6.4m-3.2 -3.2v6.4M635.3 139.0h6.4m-3.2 -3.2v6.4M635.6 137.7h6.4m-3.2 -3.2v6.4M635.9 148.9h6.4m-3.2 -3.2v6.4M636.2 149.9h6.4m-3.2 -3.2v6.4M636.5 151.0h6.4m-3.2 -3.2v6.4M636.8 160.4h6.4m-3.2 -3.2v6.4M637.1 160.1h6.4m-3.2 -3.2v6.4M637.4 160.0h6.4m-3.2 -3.2v6.4M637.7 165.4h6.4m-3.2 -3.2v6.4M638.0 166.1h6.4m-3.2 -3.2v6.4M638.3 167.3h6.4m-3.2 -3.2v6.4M638.6 172.3h6.4m-3.2 -3.2v6.4M638.9 172.5h6.4m-3.2 -3.2v6.4M639.2 173.1h6.4m-3.2 -3.2v6.4M639.6 172.9h6.4m-3.2 -3.2v6.4M639.9 174.6h6.4m-3.2 -3.2v6.4M640.2 174.5h6.4m-3.2 -3.2v6.4M640.5 175.1h6.4m-3.2 -3.2v6.4M640.8 172.5h6.4m-3.2 -3.2v6.4M641.1 168.7h6.4m-3.2 -3.2v6.4M641.4 168.3h6.4m-3.2 -3.2v6.4M641.7 168.2h6.4m-3.2 -3.2v6.4M642.0 166.4h6.4m-3.2 -3.2v6.4M642.3 158.5h6.4m-3.2 -3.2v6.4M642.6 159.5h6.4m-3.2 -3.2v6.4M642.9 158.7h6.4m-3.2 -3.2v6.4M643.2 162.9h6.4m-3.2 -3.2v6.4M643.5 155.6h6.4m-3.2 -3.2v6.4M643.8 154.6h6.4m-3.2 -3.2v6.4M644.1 151.7h6.4m-3.2 -3.2v6.4M644.4 153.7h6.4m-3.2 -3.2v6.4M644.7 154.9h6.4m-3.2 -3.2v6.4M645.0 154.8h6.4m-3.2 -3.2v6.4M645.3 160.3h6.4m-3.2 -3.2v6.4M645.6 156.2h6.4m-3.2 -3.2v6.4M645.9 158.6h6.4m-3.2 -3.2v6.4M646.2 161.3h6.4m-3.2 -3.2v6.4M646.5 158.3h6.4m-3.2 -3.2v6.4M646.8 157.8h6.4m-3.2 -3.2v6.4M647.1 163.8h6.4m-3.2 -3.2v6.4M647.4 162.6h6.4m-3.2 -3.2v6.4M647.7 160.9h6.4m-3.2 -3.2v6.4M648.0 161.2h6.4m-3.2 -3.2v6.4M648.3 162.2h6.4m-3.2 -3.2v6.4M648.6 163.2h6.4m-3.2 -3.2v6.4M648.9 157.7h6.4m-3.2 -3.2v6.4M649.2 159.6h6.4m-3.2 -3.2v6.4M649.5 163.6h6.4m-3.2 -3.2v6.4M649.8 163.9h6.4m-3.2 -3.2v6.4M650.1 158.5h6.4m-3.2 -3.2v6.4M650.4 159.7h6.4m-3.2 -3.2v6.4M650.7 158.2h6.4m-3.2 -3.2v6.4M651.0 160.1h6.4m-3.2 -3.2v6.4M651.3 163.1h6.4m-3.2 -3.2v6.4M651.6 161.0h6.4m-3.2 -3.2v6.4M651.9 165.4h6.4m-3.2 -3.2v6.4M652.2 162.8h6.4m-3.2 -3.2v6.4M652.5 161.6h6.4m-3.2 -3.2v6.4M652.8 160.6h6.4m-3.2 -3.2v6.4M653.1 162.8h6.4m-3.2 -3.2v6.4M653.4 161.7h6.4m-3.2 -3.2v6.4M653.7 160.7h6.4m-3.2 -3.2v6.4M654.0 160.8h6.4m-3.2 -3.2v6.4M654.3 160.4h6.4m-3.2 -3.2v6.4M654.6 161.1h6.4m-3.2 -3.2v6.4M654.9 162.1h6.4m-3.2 -3.2v6.4M655.2 160.1h6.4m-3.2 -3.2v6.4M655.5 161.4h6.4m-3.2 -3.2v6.4M655.8 163.0h6.4m-3.2 -3.2v6.4M656.1 162.6h6.4m-3.2 -3.2v6.4M656.4 161.5h6.4m-3.2 -3.2v6.4M656.7 161.7h6.4m-3.2 -3.2v6.4M657.0 161.2h6.4m-3.2 -3.2v6.4M657.3 161.5h6.4m-3.2 -3.2v6.4M657.6 161.2h6.4m-3.2 -3.2v6.4M657.9 161.7h6.4m-3.2 -3.2v6.4M658.2 163.7h6.4m-3.2 -3.2v6.4M658.5 160.7h6.4m-3.2 -3.2v6.4M658.8 159.6h6.4m-3.2 -3.2v6.4M659.1 160.7h6.4m-3.2 -3.2v6.4M659.4 161.8h6.4m-3.2 -3.2v6.4M659.7 160.7h6.4m-3.2 -3.2v6.4M660.0 163.2h6.4m-3.2 -3.2v6.4M660.3 164.9h6.4m-3.2 -3.2v6.4M660.6 161.4h6.4m-3.2 -3.2v6.4M661.0 163.2h6.4m-3.2 -3.2v6.4M661.3 160.2h6.4m-3.2 -3.2v6.4M661.6 163.4h6.4m-3.2 -3.2v6.4M661.9 166.2h6.4m-3.2 -3.2v6.4M662.2 163.4h6.4m-3.2 -3.2v6.4M662.5 158.7h6.4m-3.2 -3.2v6.4M662.8 162.2h6.4m-3.2 -3.2v6.4M663.1 163.9h6.4m-3.2 -3.2v6.4M663.4 162.9h6.4m-3.2 -3.2v6.4M663.7 160.6h6.4m-3.2 -3.2v6.4M664.0 160.6h6.4m-3.2 -3.2v6.4M664.3 161.2h6.4m-3.2 -3.2v6.4M664.6 158.9h6.4m-3.2 -3.2v6.4M664.9 160.2h6.4m-3.2 -3.2v6.4M665.2 161.5h6.4m-3.2 -3.2v6.4M665.5 160.4h6.4m-3.2 -3.2v6.4M665.8 158.5h6.4m-3.2 -3.2v6.4M666.1 159.8h6.4m-3.2 -3.2v6.4M666.4 159.7h6.4m-3.2 -3.2v6.4M666.7 163.4h6.4m-3.2 -3.2v6.4M667.0 161.8h6.4m-3.2 -3.2v6.4M667.3 160.2h6.4m-3.2 -3.2v6.4M667.6 162.0h6.4m-3.2 -3.2v6.4M667.9 159.6h6.4m-3.2 -3.2v6.4M668.2 160.4h6.4m-3.2 -3.2v6.4M668.5 159.9h6.4m-3.2 -3.2v6.4M668.8 161.9h6.4m-3.2 -3.2v6.4M669.1 157.0h6.4m-3.2 -3.2v6.4M669.4 159.3h6.4m-3.2 -3.2v6.4M669.7 161.9h6.4m-3.2 -3.2v6.4M670.0 161.3h6.4m-3.2 -3.2v6.4M670.3 156.9h6.4m-3.2 -3.2v6.4M670.6 162.1h6.4m-3.2 -3.2v6.4M670.9 159.9h6.4m-3.2 -3.2v6.4M671.2 159.7h6.4m-3.2 -3.2v6.4M671.5 161.5h6.4m-3.2 -3.2v6.4M671.8 163.6h6.4m-3.2 -3.2v6.4M672.1 161.2h6.4m-3.2 -3.2v6.4M672.4 160.9h6.4m-3.2 -3.2v6.4M672.7 159.5h6.4m-3.2 -3.2v6.4M673.0 160.1h6.4m-3.2 -3.2v6.4M673.3 161.5h6.4m-3.2 -3.2v6.4M673.6 160.0h6.4m-3.2 -3.2v6.4M673.9 160.5h6.4m-3.2 -3.2v6.4M674.2 161.1h6.4m-3.2 -3.2v6.4M674.5 161.4h6.4m-3.2 -3.2v6.4M674.8 161.9h6.4m-3.2 -3.2v6.4M675.1 160.3h6.4m-3.2 -3.2v6.4M675.4 163.4h6.4m-3.2 -3.2v6.4M675.7 162.6h6.4m-3.2 -3.2v6.4M676.0 161.5h6.4m-3.2 -3.2v6.4M676.3 164.1h6.4m-3.2 -3.2v6.4M676.6 162.3h6.4m-3.2 -3.2v6.4M676.9 165.1h6.4m-3.2 -3.2v6.4M677.2 162.7h6.4m-3.2 -3.2v6.4M677.5 160.5h6.4m-3.2 -3.2v6.4M677.8 160.5h6.4m-3.2 -3.2v6.4M678.1 161.6h6.4m-3.2 -3.2v6.4M678.4 161.9h6.4m-3.2 -3.2v6.4M678.7 164.0h6.4m-3.2 -3.2v6.4M679.0 158.2h6.4m-3.2 -3.2v6.4M679.3 160.5h6.4m-3.2 -3.2v6.4M679.6 159.4h6.4m-3.2 -3.2v6.4M679.9 162.7h6.4m-3.2 -3.2v6.4M680.2 161.2h6.4m-3.2 -3.2v6.4M680.5 163.6h6.4m-3.2 -3.2v6.4M680.8 158.2h6.4m-3.2 -3.2v6.4M681.1 156.9h6.4m-3.2 -3.2v6.4M681.4 160.5h6.4m-3.2 -3.2v6.4M681.7 155.4h6.4m-3.2 -3.2v6.4M682.1 152.2h6.4m-3.2 -3.2v6.4M682.4 154.5h6.4m-3.2 -3.2v6.4M682.7 152.7h6.4m-3.2 -3.2v6.4M683.0 150.0h6.4m-3.2 -3.2v6.4M683.3 148.4h6.4m-3.2 -3.2v6.4M683.6 149.8h6.4m-3.2 -3.2v6.4M683.9 148.1h6.4m-3.2 -3.2v6.4M684.2 149.1h6.4m-3.2 -3.2v6.4M684.5 150.3h6.4m-3.2 -3.2v6.4M684.8 142.5h6.4m-3.2 -3.2v6.4M685.1 132.9h6.4m-3.2 -3.2v6.4M685.4 123.4h6.4m-3.2 -3.2v6.4M685.7 115.1h6.4m-3.2 -3.2v6.4M686.0 106.0h6.4m-3.2 -3.2v6.4M686.3 182.0h6.4m-3.2 -3.2v6.4M686.6 225.5h6.4m-3.2 -3.2v6.4M686.9 242.2h6.4m-3.2 -3.2v6.4M687.2 175.8h6.4m-3.2 -3.2v6.4M687.5 159.8h6.4m-3.2 -3.2v6.4M687.8 162.9h6.4m-3.2 -3.2v6.4M688.1 161.2h6.4m-3.2 -3.2v6.4M688.4 157.6h6.4m-3.2 -3.2v6.4M688.7 156.4h6.4m-3.2 -3.2v6.4M689.0 155.5h6.4m-3.2 -3.2v6.4M689.3 154.6h6.4m-3.2 -3.2v6.4M689.6 156.4h6.4m-3.2 -3.2v6.4M689.9 155.3h6.4m-3.2 -3.2v6.4M690.2 157.9h6.4m-3.2 -3.2v6.4M690.5 160.9h6.4m-3.2 -3.2v6.4M690.8 164.2h6.4m-3.2 -3.2v6.4M691.1 165.4h6.4m-3.2 -3.2v6.4M691.4 171.8h6.4m-3.2 -3.2v6.4M691.7 170.2h6.4m-3.2 -3.2v6.4M692.0 169.4h6.4m-3.2 -3.2v6.4M692.3 172.5h6.4m-3.2 -3.2v6.4M692.6 169.1h6.4m-3.2 -3.2v6.4M692.9 168.3h6.4m-3.2 -3.2v6.4M693.2 169.8h6.4m-3.2 -3.2v6.4M693.5 166.3h6.4m-3.2 -3.2v6.4M693.8 165.1h6.4m-3.2 -3.2v6.4M694.1 162.6h6.4m-3.2 -3.2v6.4M694.4 161.6h6.4m-3.2 -3.2v6.4M694.7 162.2h6.4m-3.2 -3.2v6.4M695.0 163.3h6.4m-3.2 -3.2v6.4M695.3 161.9h6.4m-3.2 -3.2v6.4M695.6 161.7h6.4m-3.2 -3.2v6.4M695.9 160.2h6.4m-3.2 -3.2v6.4M696.2 161.0h6.4m-3.2 -3.2v6.4M696.5 162.8h6.4m-3.2 -3.2v6.4M696.8 163.9h6.4m-3.2 -3.2v6.4M697.1 162.2h6.4m-3.2 -3.2v6.4M697.4 162.8h6.4m-3.2 -3.2v6.4M697.7 163.5h6.4m-3.2 -3.2v6.4M698.0 161.7h6.4m-3.2 -3.2v6.4M698.3 162.4h6.4m-3.2 -3.2v6.4M698.6 161.3h6.4m-3.2 -3.2v6.4M698.9 160.6h6.4m-3.2 -3.2v6.4M699.2 162.2h6.4m-3.2 -3.2v6.4M699.5 157.4h6.4m-3.2 -3.2v6.4M699.8 162.1h6.4m-3.2 -3.2v6.4M700.1 159.5h6.4m-3.2 -3.2v6.4M700.4 161.3h6.4m-3.2 -3.2v6.4M700.7 159.5h6.4m-3.2 -3.2v6.4M701.0 165.7h6.4m-3.2 -3.2v6.4M701.3 162.8h6.4m-3.2 -3.2v6.4M701.6 161.1h6.4m-3.2 -3.2v6.4M701.9 160.4h6.4m-3.2 -3.2v6.4M702.2 157.3h6.4m-3.2 -3.2v6.4M702.5 160.9h6.4m-3.2 -3.2v6.4M702.8 159.2h6.4m-3.2 -3.2v6.4M703.1 160.1h6.4m-3.2 -3.2v6.4M703.5 159.8h6.4m-3.2 -3.2v6.4M703.8 160.6h6.4m-3.2 -3.2v6.4M704.1 161.8h6.4m-3.2 -3.2v6.4M704.4 160.6h6.4m-3.2 -3.2v6.4M704.7 163.4h6.4m-3.2 -3.2v6.4M705.0 159.4h6.4m-3.2 -3.2v6.4M705.3 163.3h6.4m-3.2 -3.2v6.4M705.6 161.1h6.4m-3.2 -3.2v6.4M705.9 157.7h6.4m-3.2 -3.2v6.4M706.2 161.9h6.4m-3.2 -3.2v6.4M706.5 161.5h6.4m-3.2 -3.2v6.4M706.8 159.4h6.4m-3.2 -3.2v6.4M707.1 161.5h6.4m-3.2 -3.2v6.4M707.4 162.9h6.4m-3.2 -3.2v6.4M707.7 161.0h6.4m-3.2 -3.2v6.4M708.0 160.5h6.4m-3.2 -3.2v6.4M708.3 160.2h6.4m-3.2 -3.2v6.4M708.6 162.9h6.4m-3.2 -3.2v6.4M708.9 158.4h6.4m-3.2 -3.2v6.4M709.2 158.5h6.4m-3.2 -3.2v6.4M709.5 161.5h6.4m-3.2 -3.2v6.4M709.8 161.0h6.4m-3.2 -3.2v6.4M710.1 162.3h6.4m-3.2 -3.2v6.4M710.4 159.0h6.4m-3.2 -3.2v6.4M710.7 162.8h6.4m-3.2 -3.2v6.4M711.0 160.3h6.4m-3.2 -3.2v6.4M711.3 162.4h6.4m-3.2 -3.2v6.4M711.6 162.7h6.4m-3.2 -3.2v6.4M711.9 160.2h6.4m-3.2 -3.2v6.4M712.2 159.1h6.4m-3.2 -3.2v6.4M712.5 161.5h6.4m-3.2 -3.2v6.4M712.8 162.7h6.4m-3.2 -3.2v6.4M713.1 160.1h6.4m-3.2 -3.2v6.4M713.4 161.6h6.4m-3.2 -3.2v6.4M713.7 160.9h6.4m-3.2 -3.2v6.4M714.0 158.8h6.4m-3.2 -3.2v6.4M714.3 159.5h6.4m-3.2 -3.2v6.4M714.6 162.4h6.4m-3.2 -3.2v6.4M714.9 157.4h6.4m-3.2 -3.2v6.4M715.2 161.5h6.4m-3.2 -3.2v6.4M715.5 160.1h6.4m-3.2 -3.2v6.4M715.8 162.7h6.4m-3.2 -3.2v6.4M716.1 161.6h6.4m-3.2 -3.2v6.4M716.4 164.6h6.4m-3.2 -3.2v6.4M716.7 158.3h6.4m-3.2 -3.2v6.4M717.0 159.1h6.4m-3.2 -3.2v6.4M717.3 163.7h6.4m-3.2 -3.2v6.4M717.6 164.2h6.4m-3.2 -3.2v6.4M717.9 164.4h6.4m-3.2 -3.2v6.4M718.2 159.4h6.4m-3.2 -3.2v6.4M718.5 162.3h6.4m-3.2 -3.2v6.4M718.8 161.6h6.4m-3.2 -3.2v6.4M719.1 162.0h6.4m-3.2 -3.2v6.4M719.4 161.7h6.4m-3.2 -3.2v6.4M719.7 163.4h6.4m-3.2 -3.2v6.4M720.0 161.3h6.4m-3.2 -3.2v6.4M720.3 163.8h6.4m-3.2 -3.2v6.4M720.6 161.1h6.4m-3.2 -3.2v6.4M720.9 160.1h6.4m-3.2 -3.2v6.4M721.2 159.3h6.4m-3.2 -3.2v6.4M721.5 159.8h6.4m-3.2 -3.2v6.4M721.8 160.0h6.4m-3.2 -3.2v6.4M722.1 156.8h6.4m-3.2 -3.2v6.4M722.4 156.4h6.4m-3.2 -3.2v6.4M722.7 150.9h6.4m-3.2 -3.2v6.4M723.0 150.5h6.4m-3.2 -3.2v6.4M723.3 150.3h6.4m-3.2 -3.2v6.4M723.6 149.5h6.4m-3.2 -3.2v6.4M723.9 148.9h6.4m-3.2 -3.2v6.4M724.2 148.9h6.4m-3.2 -3.2v6.4M724.5 148.1h6.4m-3.2 -3.2v6.4M724.9 132.9h6.4m-3.2 -3.2v6.4M725.2 109.1h6.4m-3.2 -3.2v6.4M725.5 90.8h6.4m-3.2 -3.2v6.4M725.8 182.0h6.4m-3.2 -3.2v6.4M726.1 196.0h6.4m-3.2 -3.2v6.4M726.4 200.5h6.4m-3.2 -3.2v6.4M726.7 220.0h6.4m-3.2 -3.2v6.4M727.0 240.5h6.4m-3.2 -3.2v6.4M727.3 175.8h6.4m-3.2 -3.2v6.4M727.6 160.3h6.4m-3.2 -3.2v6.4M727.9 160.7h6.4m-3.2 -3.2v6.4M728.2 160.7h6.4m-3.2 -3.2v6.4M728.5 162.3h6.4m-3.2 -3.2v6.4M728.8 137.7h6.4m-3.2 -3.2v6.4M729.1 123.4h6.4m-3.2 -3.2v6.4M729.4 113.9h6.4m-3.2 -3.2v6.4M729.7 106.0h6.4m-3.2 -3.2v6.4M730.0 132.9h6.4m-3.2 -3.2v6.4M730.3 154.4h6.4m-3.2 -3.2v6.4M730.6 173.1h6.4m-3.2 -3.2v6.4M730.9 174.5h6.4m-3.2 -3.2v6.4M731.2 172.2h6.4m-3.2 -3.2v6.4M731.5 174.4h6.4m-3.2 -3.2v6.4M731.8 171.2h6.4m-3.2 -3.2v6.4M732.1 169.5h6.4m-3.2 -3.2v6.4M732.4 168.5h6.4m-3.2 -3.2v6.4M732.7 166.2h6.4m-3.2 -3.2v6.4M733.0 165.6h6.4m-3.2 -3.2v6.4M733.3 166.5h6.4m-3.2 -3.2v6.4M733.6 163.1h6.4m-3.2 -3.2v6.4M733.9 161.5h6.4m-3.2 -3.2v6.4M734.2 162.9h6.4m-3.2 -3.2v6.4M734.5 161.9h6.4m-3.2 -3.2v6.4M734.8 160.3h6.4m-3.2 -3.2v6.4M735.1 163.1h6.4m-3.2 -3.2v6.4M735.4 160.4h6.4m-3.2 -3.2v6.4M735.7 158.2h6.4m-3.2 -3.2v6.4M736.0 162.5h6.4m-3.2 -3.2v6.4M736.3 161.2h6.4m-3.2 -3.2v6.4M736.6 161.8h6.4m-3.2 -3.2v6.4M736.9 158.8h6.4m-3.2 -3.2v6.4M737.2 160.9h6.4m-3.2 -3.2v6.4M737.5 159.9h6.4m-3.2 -3.2v6.4M737.8 162.7h6.4m-3.2 -3.2v6.4M738.1 161.5h6.4m-3.2 -3.2v6.4M738.4 161.5h6.4m-3.2 -3.2v6.4M738.7 164.7h6.4m-3.2 -3.2v6.4M739.0 158.9h6.4m-3.2 -3.2v6.4M739.3 159.9h6.4m-3.2 -3.2v6.4M739.6 164.6h6.4m-3.2 -3.2v6.4M739.9 160.2h6.4m-3.2 -3.2v6.4M740.2 161.7h6.4m-3.2 -3.2v6.4M740.5 160.7h6.4m-3.2 -3.2v6.4M740.8 160.8h6.4m-3.2 -3.2v6.4M741.1 164.2h6.4m-3.2 -3.2v6.4M741.4 161.9h6.4m-3.2 -3.2v6.4M741.7 158.8h6.4m-3.2 -3.2v6.4M742.0 162.5h6.4m-3.2 -3.2v6.4M742.3 163.3h6.4m-3.2 -3.2v6.4M742.6 163.9h6.4m-3.2 -3.2v6.4M742.9 163.7h6.4m-3.2 -3.2v6.4M743.2 160.9h6.4m-3.2 -3.2v6.4M743.5 158.5h6.4m-3.2 -3.2v6.4M743.8 160.7h6.4m-3.2 -3.2v6.4M744.1 161.1h6.4m-3.2 -3.2v6.4M744.4 157.5h6.4m-3.2 -3.2v6.4M744.7 162.4h6.4m-3.2 -3.2v6.4M745.0 162.7h6.4m-3.2 -3.2v6.4M745.3 160.6h6.4m-3.2 -3.2v6.4M745.6 160.5h6.4m-3.2 -3.2v6.4M746.0 163.3h6.4m-3.2 -3.2v6.4M746.3 163.6h6.4m-3.2 -3.2v6.4M746.6 161.0h6.4m-3.2 -3.2v6.4M746.9 161.1h6.4m-3.2 -3.2v6.4M747.2 163.8h6.4m-3.2 -3.2v6.4M747.5 161.9h6.4m-3.2 -3.2v6.4M747.8 162.5h6.4m-3.2 -3.2v6.4M748.1 160.7h6.4m-3.2 -3.2v6.4M748.4 161.7h6.4m-3.2 -3.2v6.4M748.7 161.7h6.4m-3.2 -3.2v6.4M749.0 162.1h6.4m-3.2 -3.2v6.4M749.3 159.6h6.4m-3.2 -3.2v6.4M749.6 159.0h6.4m-3.2 -3.2v6.4M749.9 162.2h6.4m-3.2 -3.2v6.4M750.2 160.0h6.4m-3.2 -3.2v6.4M750.5 162.9h6.4m-3.2 -3.2v6.4M750.8 161.4h6.4m-3.2 -3.2v6.4M751.1 160.2h6.4m-3.2 -3.2v6.4M751.4 158.8h6.4m-3.2 -3.2v6.4M751.7 162.2h6.4m-3.2 -3.2v6.4M752.0 161.6h6.4m-3.2 -3.2v6.4M752.3 161.1h6.4m-3.2 -3.2v6.4M752.6 164.2h6.4m-3.2 -3.2v6.4M752.9 161.5h6.4m-3.2 -3.2v6.4M753.2 162.7h6.4m-3.2 -3.2v6.4M753.5 160.8h6.4m-3.2 -3.2v6.4M753.8 163.5h6.4m-3.2 -3.2v6.4M754.1 165.0h6.4m-3.2 -3.2v6.4M754.4 161.4h6.4m-3.2 -3.2v6.4M754.7 161.0h6.4m-3.2 -3.2v6.4M755.0 162.5h6.4m-3.2 -3.2v6.4M755.3 159.9h6.4m-3.2 -3.2v6.4M755.6 162.0h6.4m-3.2 -3.2v6.4M755.9 162.6h6.4m-3.2 -3.2v6.4M756.2 160.6h6.4m-3.2 -3.2v6.4M756.5 164.3h6.4m-3.2 -3.2v6.4M756.8 162.7h6.4m-3.2 -3.2v6.4M757.1 161.5h6.4m-3.2 -3.2v6.4M757.4 160.0h6.4m-3.2 -3.2v6.4M757.7 161.8h6.4m-3.2 -3.2v6.4M758.0 160.9h6.4m-3.2 -3.2v6.4M758.3 162.7h6.4m-3.2 -3.2v6.4M758.6 161.0h6.4m-3.2 -3.2v6.4M758.9 158.5h6.4m-3.2 -3.2v6.4M759.2 162.7h6.4m-3.2 -3.2v6.4M759.5 157.3h6.4m-3.2 -3.2v6.4M759.8 162.6h6.4m-3.2 -3.2v6.4M760.1 161.5h6.4m-3.2 -3.2v6.4M760.4 161.2h6.4m-3.2 -3.2v6.4M760.7 159.7h6.4m-3.2 -3.2v6.4M761.0 163.7h6.4m-3.2 -3.2v6.4M761.3 165.2h6.4m-3.2 -3.2v6.4M761.6 160.4h6.4m-3.2 -3.2v6.4M761.9 160.1h6.4m-3.2 -3.2v6.4M762.2 160.4h6.4m-3.2 -3.2v6.4M762.5 156.8h6.4m-3.2 -3.2v6.4M762.8 161.1h6.4m-3.2 -3.2v6.4M763.1 161.0h6.4m-3.2 -3.2v6.4M763.4 159.8h6.4m-3.2 -3.2v6.4M763.7 160.8h6.4m-3.2 -3.2v6.4M764.0 158.5h6.4m-3.2 -3.2v6.4M764.3 163.7h6.4m-3.2 -3.2v6.4M764.6 162.2h6.4m-3.2 -3.2v6.4M764.9 167.6h6.4m-3.2 -3.2v6.4M765.2 160.0h6.4m-3.2 -3.2v6.4M765.5 162.2h6.4m-3.2 -3.2v6.4M765.8 159.9h6.4m-3.2 -3.2v6.4M766.1 157.7h6.4m-3.2 -3.2v6.4M766.4 161.5h6.4m-3.2 -3.2v6.4M766.7 162.0h6.4m-3.2 -3.2v6.4M767.0 162.4h6.4m-3.2 -3.2v6.4M767.4 163.0h6.4m-3.2 -3.2v6.4M767.7 162.6h6.4m-3.2 -3.2v6.4M768.0 160.4h6.4m-3.2 -3.2v6.4M768.3 161.4h6.4m-3.2 -3.2v6.4M768.6 161.4h6.4m-3.2 -3.2v6.4M768.9 161.8h6.4m-3.2 -3.2v6.4M769.2 159.9h6.4m-3.2 -3.2v6.4M769.5 160.6h6.4m-3.2 -3.2v6.4M769.8 161.8h6.4m-3.2 -3.2v6.4M770.1 160.3h6.4m-3.2 -3.2v6.4M770.4 161.8h6.4m-3.2 -3.2v6.4M770.7 163.5h6.4m-3.2 -3.2v6.4M771.0 158.9h6.4m-3.2 -3.2v6.4M771.3 160.6h6.4m-3.2 -3.2v6.4M771.6 163.1h6.4m-3.2 -3.2v6.4M771.9 159.4h6.4m-3.2 -3.2v6.4M772.2 160.7h6.4m-3.2 -3.2v6.4M772.5 163.9h6.4m-3.2 -3.2v6.4M772.8 158.0h6.4m-3.2 -3.2v6.4M773.1 159.8h6.4m-3.2 -3.2v6.4M773.4 158.2h6.4m-3.2 -3.2v6.4M773.7 158.6h6.4m-3.2 -3.2v6.4M774.0 158.1h6.4m-3.2 -3.2v6.4M774.3 159.1h6.4m-3.2 -3.2v6.4M774.6 152.9h6.4m-3.2 -3.2v6.4M774.9 152.5h6.4m-3.2 -3.2v6.4M775.2 150.9h6.4m-3.2 -3.2v6.4M775.5 147.5h6.4m-3.2 -3.2v6.4M775.8 145.9h6.4m-3.2 -3.2v6.4M776.1 143.1h6.4m-3.2 -3.2v6.4M776.4 143.8h6.4m-3.2 -3.2v6.4M776.7 142.6h6.4m-3.2 -3.2v6.4M777.0 146.4h6.4m-3.2 -3.2v6.4M777.3 128.2h6.4m-3.2 -3.2v6.4M777.6 113.9h6.4m-3.2 -3.2v6.4M777.9 95.8h6.4m-3.2 -3.2v6.4M778.2 83.7h6.4m-3.2 -3.2v6.4M778.5 137.7h6.4m-3.2 -3.2v6.4M778.8 182.9h6.4m-3.2 -3.2v6.4M779.1 205.8h6.4m-3.2 -3.2v6.4M779.4 227.4h6.4m-3.2 -3.2v6.4M779.7 253.8h6.4m-3.2 -3.2v6.4M780.0 149.6h6.4m-3.2 -3.2v6.4M780.3 95.8h6.4m-3.2 -3.2v6.4M780.6 80.6h6.4m-3.2 -3.2v6.4M780.9 113.9h6.4m-3.2 -3.2v6.4M781.2 183.9h6.4m-3.2 -3.2v6.4M781.5 175.8h6.4m-3.2 -3.2v6.4M781.8 159.3h6.4m-3.2 -3.2v6.4M782.1 157.0h6.4m-3.2 -3.2v6.4M782.4 162.4h6.4m-3.2 -3.2v6.4M782.7 161.9h6.4m-3.2 -3.2v6.4M783.0 159.4h6.4m-3.2 -3.2v6.4M783.3 161.3h6.4m-3.2 -3.2v6.4M783.6 157.2h6.4m-3.2 -3.2v6.4M783.9 155.3h6.4m-3.2 -3.2v6.4M784.2 154.8h6.4m-3.2 -3.2v6.4M784.5 151.4h6.4m-3.2 -3.2v6.4M784.8 153.5h6.4m-3.2 -3.2v6.4M785.1 148.4h6.4m-3.2 -3.2v6.4M785.4 152.5h6.4m-3.2 -3.2v6.4M785.7 151.8h6.4m-3.2 -3.2v6.4M786.0 153.2h6.4m-3.2 -3.2v6.4M786.3 154.9h6.4m-3.2 -3.2v6.4M786.6 154.6h6.4m-3.2 -3.2v6.4M786.9 157.8h6.4m-3.2 -3.2v6.4M787.2 160.0h6.4m-3.2 -3.2v6.4M787.5 159.3h6.4m-3.2 -3.2v6.4M787.8 158.0h6.4m-3.2 -3.2v6.4M788.1 161.2h6.4m-3.2 -3.2v6.4M788.5 160.9h6.4m-3.2 -3.2v6.4M788.8 159.6h6.4m-3.2 -3.2v6.4M789.1 161.7h6.4m-3.2 -3.2v6.4M789.4 165.1h6.4m-3.2 -3.2v6.4M789.7 159.3h6.4m-3.2 -3.2v6.4M790.0 161.0h6.4m-3.2 -3.2v6.4M790.3 169.8h6.4m-3.2 -3.2v6.4M790.6 167.6h6.4m-3.2 -3.2v6.4M790.9 167.7h6.4m-3.2 -3.2v6.4M791.2 167.2h6.4m-3.2 -3.2v6.4M791.5 167.5h6.4m-3.2 -3.2v6.4M791.8 170.4h6.4m-3.2 -3.2v6.4M792.1 171.0h6.4m-3.2 -3.2v6.4M792.4 159.9h6.4m-3.2 -3.2v6.4M792.7 163.2h6.4m-3.2 -3.2v6.4M793.0 163.4h6.4m-3.2 -3.2v6.4M793.3 155.4h6.4m-3.2 -3.2v6.4M793.6 155.6h6.4m-3.2 -3.2v6.4M793.9 160.9h6.4m-3.2 -3.2v6.4M794.2 160.2h6.4m-3.2 -3.2v6.4M794.5 156.9h6.4m-3.2 -3.2v6.4M794.8 151.1h6.4m-3.2 -3.2v6.4M795.1 155.9h6.4m-3.2 -3.2v6.4M795.4 153.9h6.4m-3.2 -3.2v6.4M795.7 156.4h6.4m-3.2 -3.2v6.4M796.0 154.3h6.4m-3.2 -3.2v6.4M796.3 157.5h6.4m-3.2 -3.2v6.4M796.6 154.2h6.4m-3.2 -3.2v6.4M796.9 150.2h6.4m-3.2 -3.2v6.4M797.2 157.9h6.4m-3.2 -3.2v6.4M797.5 152.9h6.4m-3.2 -3.2v6.4M797.8 156.6h6.4m-3.2 -3.2v6.4M798.1 158.7h6.4m-3.2 -3.2v6.4M798.4 161.8h6.4m-3.2 -3.2v6.4M798.7 150.9h6.4m-3.2 -3.2v6.4M799.0 152.2h6.4m-3.2 -3.2v6.4M799.3 155.6h6.4m-3.2 -3.2v6.4M799.6 155.9h6.4m-3.2 -3.2v6.4M799.9 165.5h6.4m-3.2 -3.2v6.4M800.2 151.8h6.4m-3.2 -3.2v6.4M800.5 158.8h6.4m-3.2 -3.2v6.4M800.8 162.7h6.4m-3.2 -3.2v6.4M801.1 162.6h6.4m-3.2 -3.2v6.4M801.4 158.0h6.4m-3.2 -3.2v6.4M801.7 166.9h6.4m-3.2 -3.2v6.4M802.0 158.8h6.4m-3.2 -3.2v6.4M802.3 158.8h6.4m-3.2 -3.2v6.4M802.6 159.8h6.4m-3.2 -3.2v6.4M802.9 159.3h6.4m-3.2 -3.2v6.4M803.2 161.4h6.4m-3.2 -3.2v6.4M803.5 157.1h6.4m-3.2 -3.2v6.4M803.8 161.7h6.4m-3.2 -3.2v6.4M804.1 167.6h6.4m-3.2 -3.2v6.4M804.4 160.6h6.4m-3.2 -3.2v6.4M804.7 165.2h6.4m-3.2 -3.2v6.4M805.0 164.7h6.4m-3.2 -3.2v6.4M805.3 159.4h6.4m-3.2 -3.2v6.4M805.6 159.8h6.4m-3.2 -3.2v6.4M805.9 165.4h6.4m-3.2 -3.2v6.4M806.2 163.9h6.4m-3.2 -3.2v6.4M806.5 158.5h6.4m-3.2 -3.2v6.4M806.8 159.0h6.4m-3.2 -3.2v6.4M807.1 160.3h6.4m-3.2 -3.2v6.4M807.4 160.3h6.4m-3.2 -3.2v6.4M807.7 160.9h6.4m-3.2 -3.2v6.4M808.0 161.7h6.4m-3.2 -3.2v6.4M808.3 156.8h6.4m-3.2 -3.2v6.4M808.6 162.5h6.4m-3.2 -3.2v6.4M808.9 169.9h6.4m-3.2 -3.2v6.4M809.2 160.0h6.4m-3.2 -3.2v6.4M809.5 164.1h6.4m-3.2 -3.2v6.4M809.9 160.0h6.4m-3.2 -3.2v6.4M810.2 164.4h6.4m-3.2 -3.2v6.4M810.5 161.5h6.4m-3.2 -3.2v6.4M810.8 153.7h6.4m-3.2 -3.2v6.4M811.1 164.1h6.4m-3.2 -3.2v6.4M811.4 167.1h6.4m-3.2 -3.2v6.4M811.7 165.1h6.4m-3.2 -3.2v6.4M812.0 168.6h6.4m-3.2 -3.2v6.4M812.3 169.1h6.4m-3.2 -3.2v6.4M812.6 159.0h6.4m-3.2 -3.2v6.4M812.9 164.0h6.4m-3.2 -3.2v6.4M813.2 167.9h6.4m-3.2 -3.2v6.4M813.5 164.6h6.4m-3.2 -3.2v6.4M813.8 157.2h6.4m-3.2 -3.2v6.4M814.1 165.1h6.4m-3.2 -3.2v6.4M814.4 161.7h6.4m-3.2 -3.2v6.4M814.7 161.8h6.4m-3.2 -3.2v6.4M815.0 152.8h6.4m-3.2 -3.2v6.4M815.3 155.7h6.4m-3.2 -3.2v6.4M815.6 155.1h6.4m-3.2 -3.2v6.4M815.9 160.5h6.4m-3.2 -3.2v6.4M816.2 156.9h6.4m-3.2 -3.2v6.4M816.5 148.3h6.4m-3.2 -3.2v6.4M816.8 160.9h6.4m-3.2 -3.2v6.4M817.1 155.4h6.4m-3.2 -3.2v6.4M817.4 151.7h6.4m-3.2 -3.2v6.4M817.7 150.5h6.4m-3.2 -3.2v6.4M818.0 149.3h6.4m-3.2 -3.2v6.4M818.3 142.2h6.4m-3.2 -3.2v6.4M818.6 144.2h6.4m-3.2 -3.2v6.4M818.9 146.0h6.4m-3.2 -3.2v6.4M819.2 132.9h6.4m-3.2 -3.2v6.4M819.5 113.9h6.4m-3.2 -3.2v6.4M819.8 89.6h6.4m-3.2 -3.2v6.4M820.1 63.4h6.4m-3.2 -3.2v6.4M820.4 128.2h6.4m-3.2 -3.2v6.4M820.7 187.7h6.4m-3.2 -3.2v6.4M821.0 202.7h6.4m-3.2 -3.2v6.4M821.3 230.5h6.4m-3.2 -3.2v6.4M821.6 237.7h6.4m-3.2 -3.2v6.4M821.9 171.0h6.4m-3.2 -3.2v6.4M822.2 147.9h6.4m-3.2 -3.2v6.4M822.5 149.5h6.4m-3.2 -3.2v6.4M822.8 145.5h6.4m-3.2 -3.2v6.4M823.1 145.6h6.4m-3.2 -3.2v6.4M823.4 145.7h6.4m-3.2 -3.2v6.4M823.7 152.2h6.4m-3.2 -3.2v6.4M824.0 151.0h6.4m-3.2 -3.2v6.4M824.3 151.9h6.4m-3.2 -3.2v6.4M824.6 155.7h6.4m-3.2 -3.2v6.4M824.9 159.3h6.4m-3.2 -3.2v6.4M825.2 169.1h6.4m-3.2 -3.2v6.4M825.5 167.9h6.4m-3.2 -3.2v6.4M825.8 170.0h6.4m-3.2 -3.2v6.4M826.1 168.0h6.4m-3.2 -3.2v6.4M826.4 174.7h6.4m-3.2 -3.2v6.4M826.7 172.8h6.4m-3.2 -3.2v6.4M827.0 170.4h6.4m-3.2 -3.2v6.4M827.3 166.8h6.4m-3.2 -3.2v6.4M827.6 167.1h6.4m-3.2 -3.2v6.4M827.9 162.5h6.4m-3.2 -3.2v6.4M828.2 164.7h6.4m-3.2 -3.2v6.4M828.5 161.9h6.4m-3.2 -3.2v6.4M828.8 162.9h6.4m-3.2 -3.2v6.4M829.1 161.4h6.4m-3.2 -3.2v6.4M829.4 162.8h6.4m-3.2 -3.2v6.4M829.7 164.4h6.4m-3.2 -3.2v6.4M830.0 159.6h6.4m-3.2 -3.2v6.4M830.3 161.0h6.4m-3.2 -3.2v6.4M830.6 162.5h6.4m-3.2 -3.2v6.4M831.0 161.1h6.4m-3.2 -3.2v6.4M831.3 159.7h6.4m-3.2 -3.2v6.4M831.6 163.2h6.4m-3.2 -3.2v6.4M831.9 159.3h6.4m-3.2 -3.2v6.4M832.2 161.1h6.4m-3.2 -3.2v6.4M832.5 159.8h6.4m-3.2 -3.2v6.4M832.8 161.6h6.4m-3.2 -3.2v6.4M833.1 165.2h6.4m-3.2 -3.2v6.4M833.4 160.1h6.4m-3.2 -3.2v6.4M833.7 163.1h6.4m-3.2 -3.2v6.4M834.0 162.4h6.4m-3.2 -3.2v6.4M834.3 164.6h6.4m-3.2 -3.2v6.4M834.6 159.0h6.4m-3.2 -3.2v6.4M834.9 161.4h6.4m-3.2 -3.2v6.4M835.2 165.3h6.4m-3.2 -3.2v6.4M835.5 160.5h6.4m-3.2 -3.2v6.4M835.8 161.1h6.4m-3.2 -3.2v6.4M836.1 165.8h6.4m-3.2 -3.2v6.4M836.4 160.5h6.4m-3.2 -3.2v6.4M836.7 159.0h6.4m-3.2 -3.2v6.4M837.0 160.4h6.4m-3.2 -3.2v6.4M837.3 162.4h6.4m-3.2 -3.2v6.4M837.6 162.4h6.4m-3.2 -3.2v6.4M837.9 160.2h6.4m-3.2 -3.2v6.4M838.2 158.7h6.4m-3.2 -3.2v6.4M838.5 160.9h6.4m-3.2 -3.2v6.4M838.8 161.0h6.4m-3.2 -3.2v6.4M839.1 163.9h6.4m-3.2 -3.2v6.4M839.4 163.3h6.4m-3.2 -3.2v6.4M839.7 166.9h6.4m-3.2 -3.2v6.4M840.0 163.5h6.4m-3.2 -3.2v6.4M840.3 162.2h6.4m-3.2 -3.2v6.4M840.6 161.7h6.4m-3.2 -3.2v6.4M840.9 160.9h6.4m-3.2 -3.2v6.4M841.2 160.1h6.4m-3.2 -3.2v6.4M841.5 161.3h6.4m-3.2 -3.2v6.4M841.8 160.6h6.4m-3.2 -3.2v6.4M842.1 158.9h6.4m-3.2 -3.2v6.4M842.4 160.7h6.4m-3.2 -3.2v6.4M842.7 161.4h6.4m-3.2 -3.2v6.4M843.0 162.5h6.4m-3.2 -3.2v6.4M843.3 159.5h6.4m-3.2 -3.2v6.4M843.6 162.8h6.4m-3.2 -3.2v6.4M843.9 163.5h6.4m-3.2 -3.2v6.4M844.2 160.2h6.4m-3.2 -3.2v6.4M844.5 162.0h6.4m-3.2 -3.2v6.4M844.8 161.9h6.4m-3.2 -3.2v6.4M845.1 163.4h6.4m-3.2 -3.2v6.4M845.4 158.9h6.4m-3.2 -3.2v6.4M845.7 161.5h6.4m-3.2 -3.2v6.4M846.0 160.4h6.4m-3.2 -3.2v6.4M846.3 165.0h6.4m-3.2 -3.2v6.4M846.6 163.4h6.4m-3.2 -3.2v6.4M846.9 162.6h6.4m-3.2 -3.2v6.4M847.2 160.9h6.4m-3.2 -3.2v6.4M847.5 157.0h6.4m-3.2 -3.2v6.4M847.8 165.5h6.4m-3.2 -3.2v6.4M848.1 161.8h6.4m-3.2 -3.2v6.4M848.4 160.1h6.4m-3.2 -3.2v6.4M848.7 163.0h6.4m-3.2 -3.2v6.4M849.0 159.4h6.4m-3.2 -3.2v6.4M849.3 165.5h6.4m-3.2 -3.2v6.4M849.6 159.6h6.4m-3.2 -3.2v6.4M849.9 165.4h6.4m-3.2 -3.2v6.4M850.2 159.5h6.4m-3.2 -3.2v6.4M850.5 162.5h6.4m-3.2 -3.2v6.4M850.8 163.3h6.4m-3.2 -3.2v6.4M851.1 162.2h6.4m-3.2 -3.2v6.4M851.4 160.3h6.4m-3.2 -3.2v6.4M851.7 160.6h6.4m-3.2 -3.2v6.4M852.0 167.3h6.4m-3.2 -3.2v6.4M852.4 159.0h6.4m-3.2 -3.2v6.4M852.7 161.4h6.4m-3.2 -3.2v6.4M853.0 156.2h6.4m-3.2 -3.2v6.4M853.3 163.3h6.4m-3.2 -3.2v6.4M853.6 160.4h6.4m-3.2 -3.2v6.4M853.9 161.0h6.4m-3.2 -3.2v6.4M854.2 163.1h6.4m-3.2 -3.2v6.4M854.5 157.5h6.4m-3.2 -3.2v6.4M854.8 156.4h6.4m-3.2 -3.2v6.4M855.1 160.6h6.4m-3.2 -3.2v6.4M855.4 163.5h6.4m-3.2 -3.2v6.4M855.7 160.9h6.4m-3.2 -3.2v6.4M856.0 161.5h6.4m-3.2 -3.2v6.4M856.3 160.9h6.4m-3.2 -3.2v6.4M856.6 161.2h6.4m-3.2 -3.2v6.4M856.9 164.0h6.4m-3.2 -3.2v6.4M857.2 161.8h6.4m-3.2 -3.2v6.4M857.5 159.4h6.4m-3.2 -3.2v6.4M857.8 163.6h6.4m-3.2 -3.2v6.4M858.1 164.4h6.4m-3.2 -3.2v6.4M858.4 163.5h6.4m-3.2 -3.2v6.4M858.7 156.7h6.4m-3.2 -3.2v6.4M859.0 156.8h6.4m-3.2 -3.2v6.4M859.3 161.1h6.4m-3.2 -3.2v6.4M859.6 163.9h6.4m-3.2 -3.2v6.4M859.9 163.6h6.4m-3.2 -3.2v6.4M860.2 160.5h6.4m-3.2 -3.2v6.4M860.5 159.0h6.4m-3.2 -3.2v6.4M860.8 159.8h6.4m-3.2 -3.2v6.4M861.1 166.1h6.4m-3.2 -3.2v6.4M861.4 159.7h6.4m-3.2 -3.2v6.4M861.7 162.4h6.4m-3.2 -3.2v6.4M862.0 163.4h6.4m-3.2 -3.2v6.4M862.3 162.2h6.4m-3.2 -3.2v6.4M862.6 160.6h6.4m-3.2 -3.2v6.4M862.9 158.8h6.4m-3.2 -3.2v6.4M863.2 159.6h6.4m-3.2 -3.2v6.4M863.5 165.5h6.4m-3.2 -3.2v6.4M863.8 166.8h6.4m-3.2 -3.2v6.4M864.1 161.5h6.4m-3.2 -3.2v6.4M864.4 159.5h6.4m-3.2 -3.2v6.4M864.7 158.9h6.4m-3.2 -3.2v6.4M865.0 160.7h6.4m-3.2 -3.2v6.4M865.3 155.7h6.4m-3.2 -3.2v6.4M865.6 155.7h6.4m-3.2 -3.2v6.4M865.9 156.9h6.4m-3.2 -3.2v6.4M866.2 157.7h6.4m-3.2 -3.2v6.4M866.5 158.1h6.4m-3.2 -3.2v6.4M866.8 153.0h6.4m-3.2 -3.2v6.4M867.1 153.4h6.4m-3.2 -3.2v6.4M867.4 154.9h6.4m-3.2 -3.2v6.4M867.7 152.0h6.4m-3.2 -3.2v6.4M868.0 151.6h6.4m-3.2 -3.2v6.4M868.3 150.3h6.4m-3.2 -3.2v6.4M868.6 150.6h6.4m-3.2 -3.2v6.4M868.9 151.1h6.4m-3.2 -3.2v6.4M869.2 151.8h6.4m-3.2 -3.2v6.4M869.5 153.1h6.4m-3.2 -3.2v6.4M869.8 151.8h6.4m-3.2 -3.2v6.4M870.1 156.0h6.4m-3.2 -3.2v6.4M870.4 156.4h6.4m-3.2 -3.2v6.4M870.7 142.5h6.4m-3.2 -3.2v6.4M871.0 118.7h6.4m-3.2 -3.2v6.4M871.3 93.2h6.4m-3.2 -3.2v6.4M871.6 78.9h6.4m-3.2 -3.2v6.4M871.9 113.9h6.4m-3.2 -3.2v6.4M872.2 186.0h6.4m-3.2 -3.2v6.4M872.5 198.2h6.4m-3.2 -3.2v6.4M872.8 215.3h6.4m-3.2 -3.2v6.4M873.1 185.3h6.4m-3.2 -3.2v6.4M873.4 187.7h6.4m-3.2 -3.2v6.4M873.8 184.1h6.4m-3.2 -3.2v6.4M874.1 186.5h6.4m-3.2 -3.2v6.4M874.4 185.3h6.4m-3.2 -3.2v6.4M874.7 182.9h6.4m-3.2 -3.2v6.4" fill="none" stroke="#1818c4" stroke-width="0.85"/>

</g>
<g id="axes" filter="url(#soft2)">
<rect x="67.2" y="18.5" width="362.2" height="285.8" fill="none" stroke="#5a5a5a" stroke-width="1"/>
<path d="M126.5 304.3v-4.2M126.5 18.5v4.2M187.5 304.3v-4.2M187.5 18.5v4.2M247.5 304.3v-4.2M247.5 18.5v4.2M307.5 304.3v-4.2M307.5 18.5v4.2M368.5 304.3v-4.2M368.5 18.5v4.2M67.2 50.5h4.2M429.4 50.5h-4.2M67.2 82.5h4.2M429.4 82.5h-4.2M67.2 113.5h4.2M429.4 113.5h-4.2M67.2 145.5h4.2M429.4 145.5h-4.2M67.2 177.5h4.2M429.4 177.5h-4.2M67.2 209.5h4.2M429.4 209.5h-4.2M67.2 240.5h4.2M429.4 240.5h-4.2M67.2 272.5h4.2M429.4 272.5h-4.2" fill="none" stroke="#4a4a4a" stroke-width="1"/>
<g font-family="'Liberation Sans', Arial, Helvetica, sans-serif" font-size="11" fill="#585858">
<g font-size="11.4">
<text x="66.3" y="317.5" text-anchor="middle">0</text>
<text x="126.7" y="317.5" text-anchor="middle">200</text>
<text x="187.0" y="317.5" text-anchor="middle">400</text>
<text x="247.4" y="317.5" text-anchor="middle">600</text>
<text x="307.8" y="317.5" text-anchor="middle">800</text>
<text x="368.1" y="317.5" text-anchor="middle">1000</text>
<text x="428.5" y="317.5" text-anchor="middle">1200</text>
<text x="63.0" y="22.4" text-anchor="end">20</text>
<text x="63.0" y="54.2" text-anchor="end">15</text>
<text x="63.0" y="85.9" text-anchor="end">10</text>
<text x="63.0" y="117.7" text-anchor="end">5</text>
<text x="63.0" y="149.4" text-anchor="end">0</text>
<text x="63.0" y="181.2" text-anchor="end">-5</text>
<text x="63.0" y="212.9" text-anchor="end">-10</text>
<text x="63.0" y="244.7" text-anchor="end">-15</text>
<text x="63.0" y="276.4" text-anchor="end">-20</text>
<text x="63.0" y="308.2" text-anchor="end">-25</text>
</g>
<text x="245.7" y="331.8" text-anchor="middle" font-size="10.7">Index of sensor readings</text>
<text transform="translate(40.2 161.4) rotate(-90)" text-anchor="middle">AccSum</text>
</g>

<rect x="546.9" y="18.7" width="361.7" height="285.6" fill="none" stroke="#5a5a5a" stroke-width="1"/>
<path d="M606.5 304.3v-4.2M606.5 18.7v4.2M666.5 304.3v-4.2M666.5 18.7v4.2M726.5 304.3v-4.2M726.5 18.7v4.2M787.5 304.3v-4.2M787.5 18.7v4.2M847.5 304.3v-4.2M847.5 18.7v4.2M546.9 66.5h4.2M908.6 66.5h-4.2M546.9 113.5h4.2M908.6 113.5h-4.2M546.9 161.5h4.2M908.6 161.5h-4.2M546.9 209.5h4.2M908.6 209.5h-4.2M546.9 256.5h4.2M908.6 256.5h-4.2" fill="none" stroke="#4a4a4a" stroke-width="1"/>
<g font-family="'Liberation Sans', Arial, Helvetica, sans-serif" font-size="11" fill="#585858">
<g font-size="11.4">
<text x="546.0" y="317.5" text-anchor="middle">0</text>
<text x="606.3" y="317.5" text-anchor="middle">200</text>
<text x="666.6" y="317.5" text-anchor="middle">400</text>
<text x="726.9" y="317.5" text-anchor="middle">600</text>
<text x="787.1" y="317.5" text-anchor="middle">800</text>
<text x="847.4" y="317.5" text-anchor="middle">1000</text>
<text x="907.7" y="317.5" text-anchor="middle">1200</text>
<text x="542.7" y="22.6" text-anchor="end">60</text>
<text x="542.7" y="70.2" text-anchor="end">40</text>
<text x="542.7" y="117.8" text-anchor="end">20</text>
<text x="542.7" y="165.4" text-anchor="end">0</text>
<text x="542.7" y="213.0" text-anchor="end">-20</text>
<text x="542.7" y="260.6" text-anchor="end">-40</text>
<text x="542.7" y="308.2" text-anchor="end">-60</text>
</g>
<text x="725.1" y="331.8" text-anchor="middle" font-size="10.7">Index of sensor readings</text>
<text transform="translate(519.9 161.5) rotate(-90)" text-anchor="middle">AccSum</text>
</g>

</g>
<g filter="url(#soft2)" font-family="'Liberation Serif', 'Times New Roman', Times, serif" font-size="31" fill="#1c1c1c" stroke="#1c1c1c" stroke-width="0.3">
<text y="390"><tspan x="167.7">(a)</tspan> <tspan x="214.5">A</tspan> <tspan x="247.6">child</tspan></text>
<text y="390"><tspan x="638.8">(b)</tspan> <tspan x="686.7">An</tspan> <tspan x="735.9">adult</tspan></text>
</g>
<text filter="url(#soft2)" x="494.3" y="454.7" text-anchor="middle" font-family="'Liberation Sans', Arial, Helvetica, sans-serif" font-weight="bold" font-size="20" fill="#444444">(Distinguish user’s age with the data from mobile phone acceleration sensor)</text>
</svg>
</body>
</html>
